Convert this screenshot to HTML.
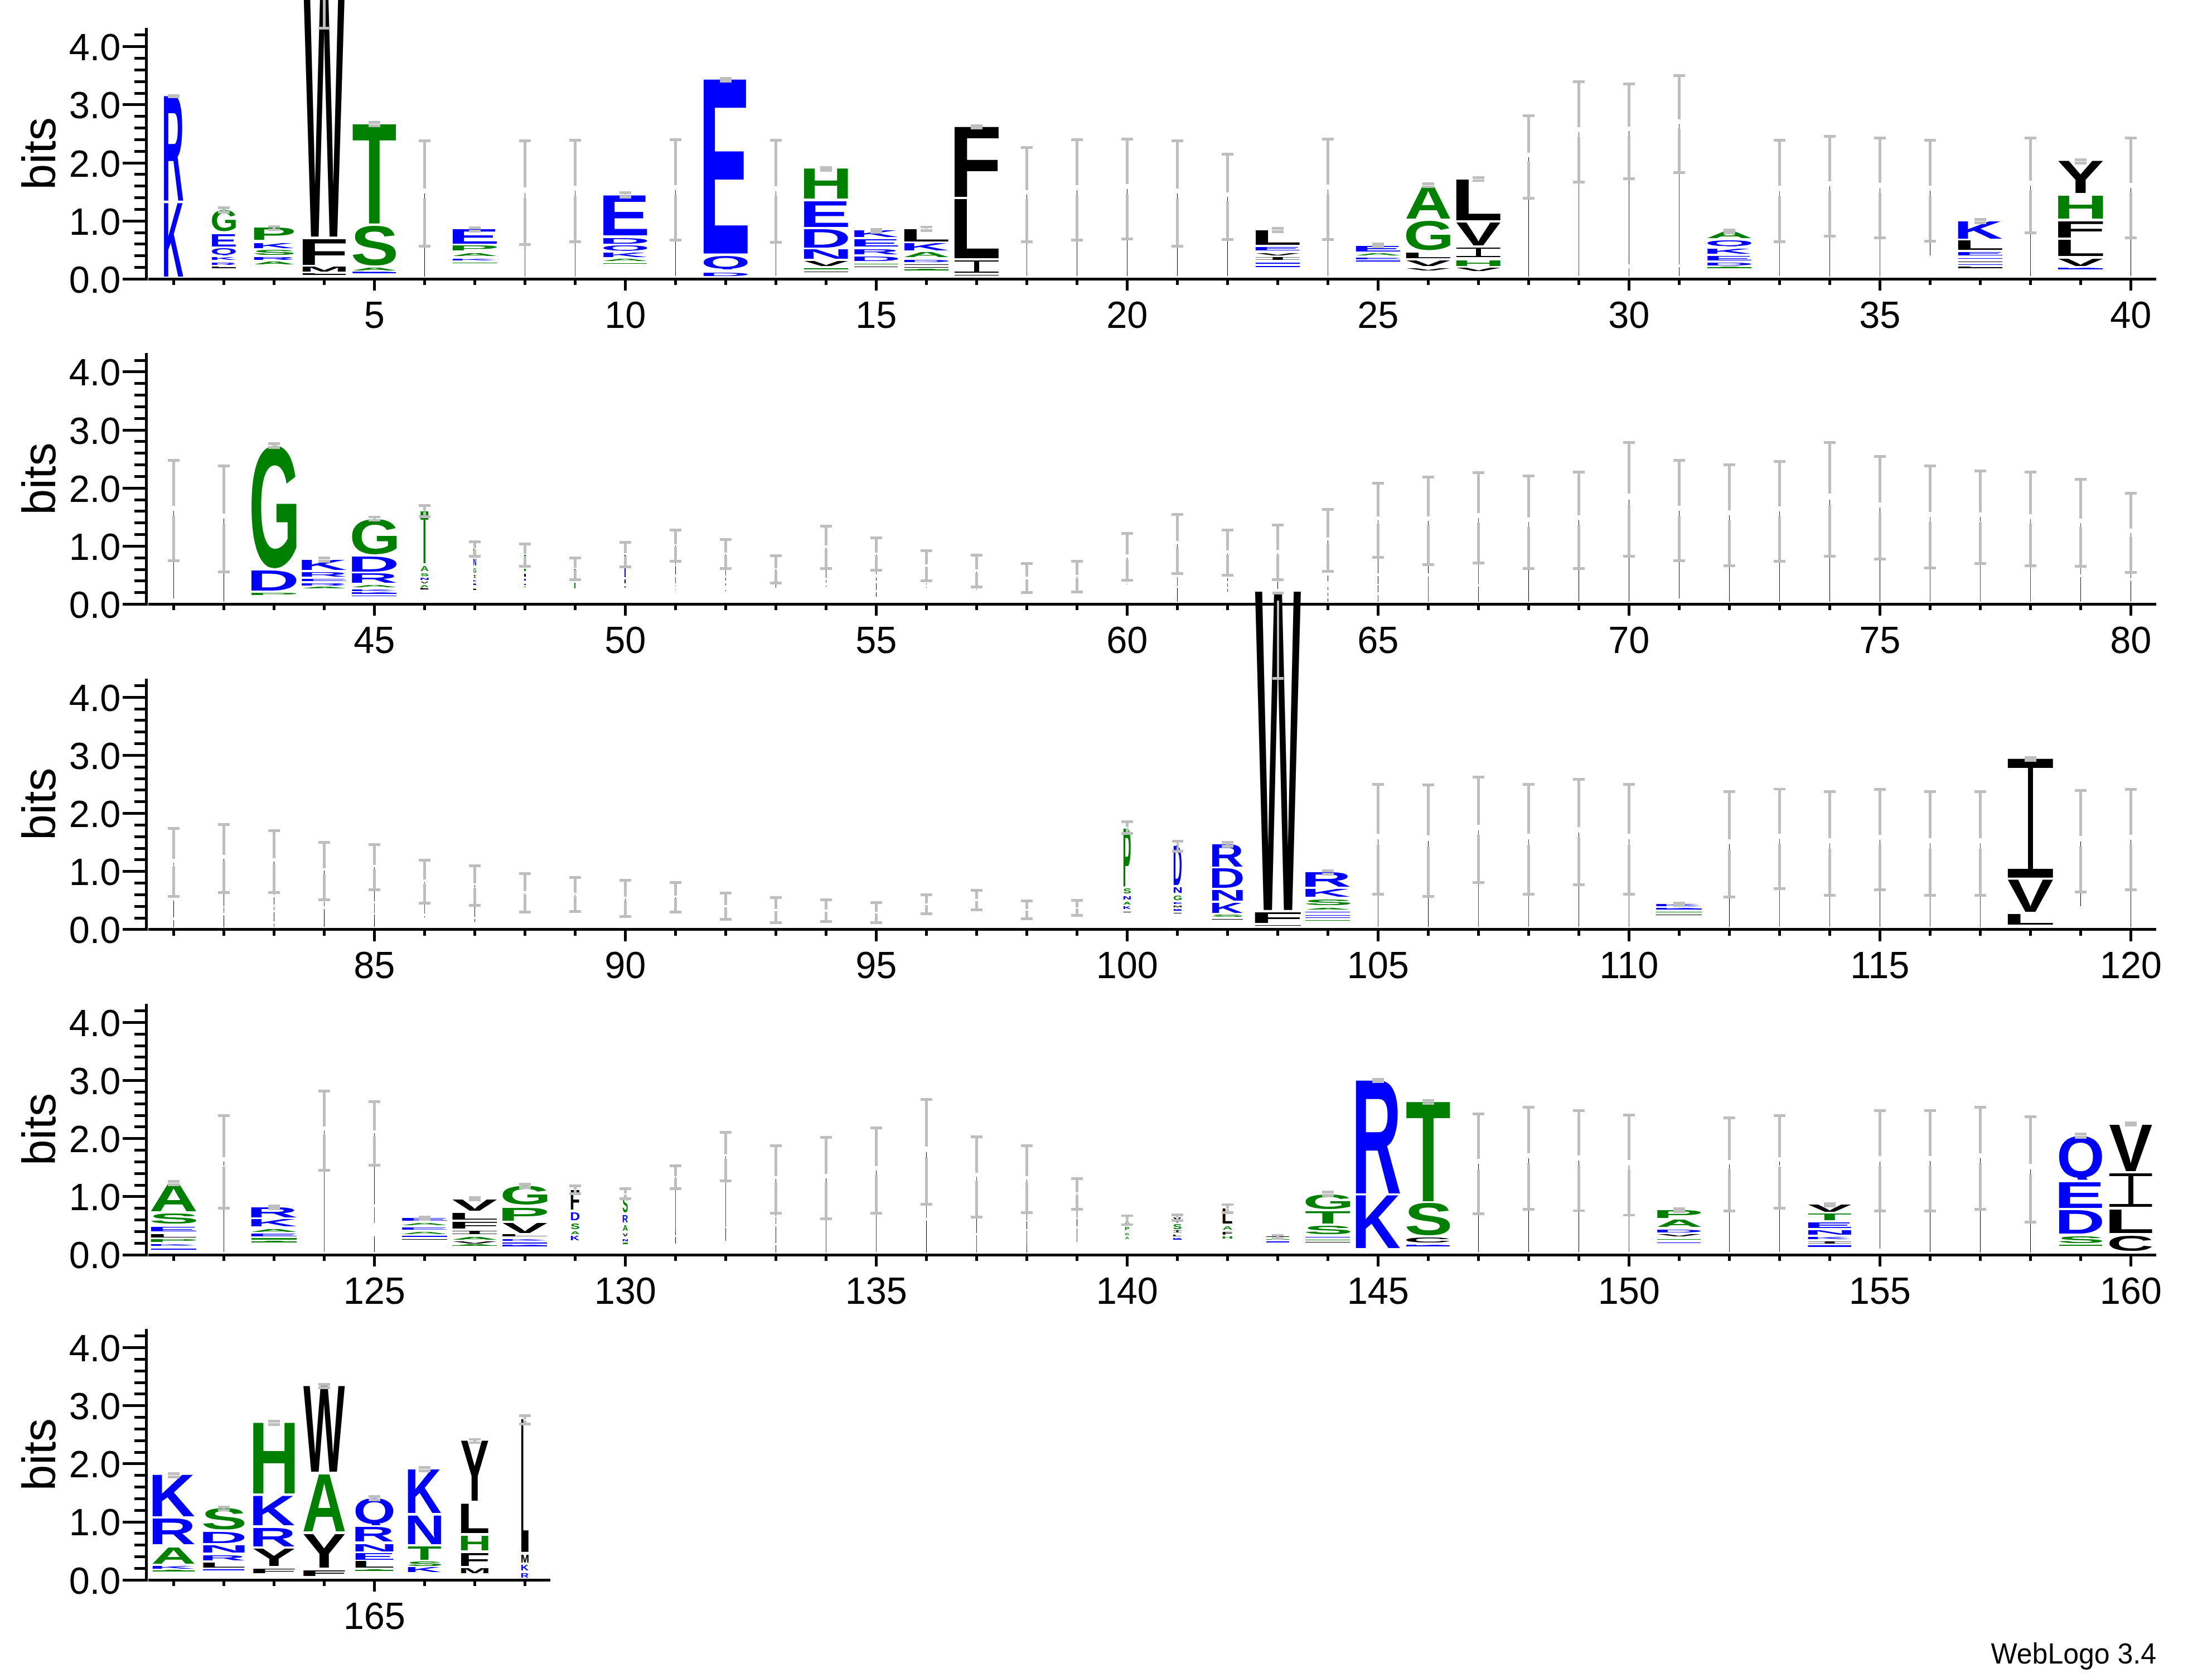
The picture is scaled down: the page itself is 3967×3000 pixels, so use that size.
<!DOCTYPE html>
<html><head><meta charset="utf-8"><title>WebLogo</title>
<style>
html,body{margin:0;padding:0;background:#fff;}
svg{display:block;}
rect{shape-rendering:crispEdges;}
.t{font-family:"Liberation Sans",Arial,sans-serif;font-size:66.67px;fill:#000;}
.b{font-family:"Liberation Sans",Arial,sans-serif;font-size:83.33px;fill:#000;}
.f{font-family:"Liberation Sans",Arial,sans-serif;font-size:50px;fill:#000;}
.g{font-family:"Liberation Sans",Arial,sans-serif;font-weight:bold;font-size:100px;}
.gi{font-family:"Liberation Mono",monospace;font-weight:normal;font-size:100px;}
</style></head><body>
<svg width="3967" height="3000" viewBox="0 0 3967 3000">
<rect width="3967" height="3000" fill="#fff"/>
<rect x="260" y="50.2" width="5" height="452.7"/>
<rect x="220" y="497.9" width="45" height="5"/>
<text x="216.4" y="524.9" class="t" text-anchor="end" transform="translate(0 524.9) scale(1 1.03) translate(0 -524.9)">0.0</text>
<rect x="241" y="477.1" width="24" height="5"/>
<rect x="241" y="456.2" width="24" height="5"/>
<rect x="241" y="435.4" width="24" height="5"/>
<rect x="241" y="414.6" width="24" height="5"/>
<rect x="220" y="393.7" width="45" height="5"/>
<text x="216.4" y="420.7" class="t" text-anchor="end" transform="translate(0 420.7) scale(1 1.03) translate(0 -420.7)">1.0</text>
<rect x="241" y="372.9" width="24" height="5"/>
<rect x="241" y="352.1" width="24" height="5"/>
<rect x="241" y="331.2" width="24" height="5"/>
<rect x="241" y="310.4" width="24" height="5"/>
<rect x="220" y="289.6" width="45" height="5"/>
<text x="216.4" y="316.6" class="t" text-anchor="end" transform="translate(0 316.6) scale(1 1.03) translate(0 -316.6)">2.0</text>
<rect x="241" y="268.7" width="24" height="5"/>
<rect x="241" y="247.9" width="24" height="5"/>
<rect x="241" y="227.1" width="24" height="5"/>
<rect x="241" y="206.2" width="24" height="5"/>
<rect x="220" y="185.4" width="45" height="5"/>
<text x="216.4" y="212.4" class="t" text-anchor="end" transform="translate(0 212.4) scale(1 1.03) translate(0 -212.4)">3.0</text>
<rect x="241" y="164.6" width="24" height="5"/>
<rect x="241" y="143.7" width="24" height="5"/>
<rect x="241" y="122.9" width="24" height="5"/>
<rect x="241" y="102.1" width="24" height="5"/>
<rect x="220" y="81.2" width="45" height="5"/>
<text x="216.4" y="108.2" class="t" text-anchor="end" transform="translate(0 108.2) scale(1 1.03) translate(0 -108.2)">4.0</text>
<rect x="241" y="60.4" width="24" height="5"/>
<text class="b" text-anchor="middle" transform="translate(99.3 275.3) rotate(-90)">bits</text>
<rect x="266" y="497.9" width="3601.0" height="5"/>
<rect x="308.8" y="500.4" width="5" height="10.8"/>
<rect x="398.8" y="500.4" width="5" height="10.8"/>
<rect x="488.8" y="500.4" width="5" height="10.8"/>
<rect x="578.8" y="500.4" width="5" height="10.8"/>
<rect x="668.8" y="500.4" width="5" height="20.8"/>
<text x="671.3" y="588.0" class="t" text-anchor="middle" transform="translate(0 588.0) scale(1 1.03) translate(0 -588.0)">5</text>
<rect x="758.8" y="500.4" width="5" height="10.8"/>
<rect x="848.8" y="500.4" width="5" height="10.8"/>
<rect x="938.8" y="500.4" width="5" height="10.8"/>
<rect x="1028.8" y="500.4" width="5" height="10.8"/>
<rect x="1118.8" y="500.4" width="5" height="20.8"/>
<text x="1121.3" y="588.0" class="t" text-anchor="middle" transform="translate(0 588.0) scale(1 1.03) translate(0 -588.0)">10</text>
<rect x="1208.8" y="500.4" width="5" height="10.8"/>
<rect x="1298.8" y="500.4" width="5" height="10.8"/>
<rect x="1388.8" y="500.4" width="5" height="10.8"/>
<rect x="1478.8" y="500.4" width="5" height="10.8"/>
<rect x="1568.8" y="500.4" width="5" height="20.8"/>
<text x="1571.3" y="588.0" class="t" text-anchor="middle" transform="translate(0 588.0) scale(1 1.03) translate(0 -588.0)">15</text>
<rect x="1658.8" y="500.4" width="5" height="10.8"/>
<rect x="1748.8" y="500.4" width="5" height="10.8"/>
<rect x="1838.8" y="500.4" width="5" height="10.8"/>
<rect x="1928.8" y="500.4" width="5" height="10.8"/>
<rect x="2018.8" y="500.4" width="5" height="20.8"/>
<text x="2021.3" y="588.0" class="t" text-anchor="middle" transform="translate(0 588.0) scale(1 1.03) translate(0 -588.0)">20</text>
<rect x="2108.8" y="500.4" width="5" height="10.8"/>
<rect x="2198.8" y="500.4" width="5" height="10.8"/>
<rect x="2288.8" y="500.4" width="5" height="10.8"/>
<rect x="2378.8" y="500.4" width="5" height="10.8"/>
<rect x="2468.8" y="500.4" width="5" height="20.8"/>
<text x="2471.3" y="588.0" class="t" text-anchor="middle" transform="translate(0 588.0) scale(1 1.03) translate(0 -588.0)">25</text>
<rect x="2558.8" y="500.4" width="5" height="10.8"/>
<rect x="2648.8" y="500.4" width="5" height="10.8"/>
<rect x="2738.8" y="500.4" width="5" height="10.8"/>
<rect x="2828.8" y="500.4" width="5" height="10.8"/>
<rect x="2918.8" y="500.4" width="5" height="20.8"/>
<text x="2921.3" y="588.0" class="t" text-anchor="middle" transform="translate(0 588.0) scale(1 1.03) translate(0 -588.0)">30</text>
<rect x="3008.8" y="500.4" width="5" height="10.8"/>
<rect x="3098.8" y="500.4" width="5" height="10.8"/>
<rect x="3188.8" y="500.4" width="5" height="10.8"/>
<rect x="3278.8" y="500.4" width="5" height="10.8"/>
<rect x="3368.8" y="500.4" width="5" height="20.8"/>
<text x="3371.3" y="588.0" class="t" text-anchor="middle" transform="translate(0 588.0) scale(1 1.03) translate(0 -588.0)">35</text>
<rect x="3458.8" y="500.4" width="5" height="10.8"/>
<rect x="3548.8" y="500.4" width="5" height="10.8"/>
<rect x="3638.8" y="500.4" width="5" height="10.8"/>
<rect x="3728.8" y="500.4" width="5" height="10.8"/>
<rect x="3818.8" y="500.4" width="5" height="20.8"/>
<text x="3821.3" y="588.0" class="t" text-anchor="middle" transform="translate(0 588.0) scale(1 1.03) translate(0 -588.0)">40</text>
<rect x="260" y="633.4" width="5" height="452.7"/>
<rect x="220" y="1081.1" width="45" height="5"/>
<text x="216.4" y="1108.1" class="t" text-anchor="end" transform="translate(0 1108.1) scale(1 1.03) translate(0 -1108.1)">0.0</text>
<rect x="241" y="1060.3" width="24" height="5"/>
<rect x="241" y="1039.4" width="24" height="5"/>
<rect x="241" y="1018.6" width="24" height="5"/>
<rect x="241" y="997.8" width="24" height="5"/>
<rect x="220" y="976.9" width="45" height="5"/>
<text x="216.4" y="1003.9" class="t" text-anchor="end" transform="translate(0 1003.9) scale(1 1.03) translate(0 -1003.9)">1.0</text>
<rect x="241" y="956.1" width="24" height="5"/>
<rect x="241" y="935.3" width="24" height="5"/>
<rect x="241" y="914.4" width="24" height="5"/>
<rect x="241" y="893.6" width="24" height="5"/>
<rect x="220" y="872.8" width="45" height="5"/>
<text x="216.4" y="899.8" class="t" text-anchor="end" transform="translate(0 899.8) scale(1 1.03) translate(0 -899.8)">2.0</text>
<rect x="241" y="851.9" width="24" height="5"/>
<rect x="241" y="831.1" width="24" height="5"/>
<rect x="241" y="810.3" width="24" height="5"/>
<rect x="241" y="789.4" width="24" height="5"/>
<rect x="220" y="768.6" width="45" height="5"/>
<text x="216.4" y="795.6" class="t" text-anchor="end" transform="translate(0 795.6) scale(1 1.03) translate(0 -795.6)">3.0</text>
<rect x="241" y="747.8" width="24" height="5"/>
<rect x="241" y="726.9" width="24" height="5"/>
<rect x="241" y="706.1" width="24" height="5"/>
<rect x="241" y="685.3" width="24" height="5"/>
<rect x="220" y="664.4" width="45" height="5"/>
<text x="216.4" y="691.4" class="t" text-anchor="end" transform="translate(0 691.4) scale(1 1.03) translate(0 -691.4)">4.0</text>
<rect x="241" y="643.6" width="24" height="5"/>
<text class="b" text-anchor="middle" transform="translate(99.3 858.5) rotate(-90)">bits</text>
<rect x="266" y="1081.1" width="3601.0" height="5"/>
<rect x="308.8" y="1083.6" width="5" height="10.8"/>
<rect x="398.8" y="1083.6" width="5" height="10.8"/>
<rect x="488.8" y="1083.6" width="5" height="10.8"/>
<rect x="578.8" y="1083.6" width="5" height="10.8"/>
<rect x="668.8" y="1083.6" width="5" height="20.8"/>
<text x="671.3" y="1171.2" class="t" text-anchor="middle" transform="translate(0 1171.2) scale(1 1.03) translate(0 -1171.2)">45</text>
<rect x="758.8" y="1083.6" width="5" height="10.8"/>
<rect x="848.8" y="1083.6" width="5" height="10.8"/>
<rect x="938.8" y="1083.6" width="5" height="10.8"/>
<rect x="1028.8" y="1083.6" width="5" height="10.8"/>
<rect x="1118.8" y="1083.6" width="5" height="20.8"/>
<text x="1121.3" y="1171.2" class="t" text-anchor="middle" transform="translate(0 1171.2) scale(1 1.03) translate(0 -1171.2)">50</text>
<rect x="1208.8" y="1083.6" width="5" height="10.8"/>
<rect x="1298.8" y="1083.6" width="5" height="10.8"/>
<rect x="1388.8" y="1083.6" width="5" height="10.8"/>
<rect x="1478.8" y="1083.6" width="5" height="10.8"/>
<rect x="1568.8" y="1083.6" width="5" height="20.8"/>
<text x="1571.3" y="1171.2" class="t" text-anchor="middle" transform="translate(0 1171.2) scale(1 1.03) translate(0 -1171.2)">55</text>
<rect x="1658.8" y="1083.6" width="5" height="10.8"/>
<rect x="1748.8" y="1083.6" width="5" height="10.8"/>
<rect x="1838.8" y="1083.6" width="5" height="10.8"/>
<rect x="1928.8" y="1083.6" width="5" height="10.8"/>
<rect x="2018.8" y="1083.6" width="5" height="20.8"/>
<text x="2021.3" y="1171.2" class="t" text-anchor="middle" transform="translate(0 1171.2) scale(1 1.03) translate(0 -1171.2)">60</text>
<rect x="2108.8" y="1083.6" width="5" height="10.8"/>
<rect x="2198.8" y="1083.6" width="5" height="10.8"/>
<rect x="2288.8" y="1083.6" width="5" height="10.8"/>
<rect x="2378.8" y="1083.6" width="5" height="10.8"/>
<rect x="2468.8" y="1083.6" width="5" height="20.8"/>
<text x="2471.3" y="1171.2" class="t" text-anchor="middle" transform="translate(0 1171.2) scale(1 1.03) translate(0 -1171.2)">65</text>
<rect x="2558.8" y="1083.6" width="5" height="10.8"/>
<rect x="2648.8" y="1083.6" width="5" height="10.8"/>
<rect x="2738.8" y="1083.6" width="5" height="10.8"/>
<rect x="2828.8" y="1083.6" width="5" height="10.8"/>
<rect x="2918.8" y="1083.6" width="5" height="20.8"/>
<text x="2921.3" y="1171.2" class="t" text-anchor="middle" transform="translate(0 1171.2) scale(1 1.03) translate(0 -1171.2)">70</text>
<rect x="3008.8" y="1083.6" width="5" height="10.8"/>
<rect x="3098.8" y="1083.6" width="5" height="10.8"/>
<rect x="3188.8" y="1083.6" width="5" height="10.8"/>
<rect x="3278.8" y="1083.6" width="5" height="10.8"/>
<rect x="3368.8" y="1083.6" width="5" height="20.8"/>
<text x="3371.3" y="1171.2" class="t" text-anchor="middle" transform="translate(0 1171.2) scale(1 1.03) translate(0 -1171.2)">75</text>
<rect x="3458.8" y="1083.6" width="5" height="10.8"/>
<rect x="3548.8" y="1083.6" width="5" height="10.8"/>
<rect x="3638.8" y="1083.6" width="5" height="10.8"/>
<rect x="3728.8" y="1083.6" width="5" height="10.8"/>
<rect x="3818.8" y="1083.6" width="5" height="20.8"/>
<text x="3821.3" y="1171.2" class="t" text-anchor="middle" transform="translate(0 1171.2) scale(1 1.03) translate(0 -1171.2)">80</text>
<rect x="260" y="1216.6" width="5" height="452.7"/>
<rect x="220" y="1664.3" width="45" height="5"/>
<text x="216.4" y="1691.3" class="t" text-anchor="end" transform="translate(0 1691.3) scale(1 1.03) translate(0 -1691.3)">0.0</text>
<rect x="241" y="1643.5" width="24" height="5"/>
<rect x="241" y="1622.6" width="24" height="5"/>
<rect x="241" y="1601.8" width="24" height="5"/>
<rect x="241" y="1581.0" width="24" height="5"/>
<rect x="220" y="1560.1" width="45" height="5"/>
<text x="216.4" y="1587.1" class="t" text-anchor="end" transform="translate(0 1587.1) scale(1 1.03) translate(0 -1587.1)">1.0</text>
<rect x="241" y="1539.3" width="24" height="5"/>
<rect x="241" y="1518.5" width="24" height="5"/>
<rect x="241" y="1497.6" width="24" height="5"/>
<rect x="241" y="1476.8" width="24" height="5"/>
<rect x="220" y="1456.0" width="45" height="5"/>
<text x="216.4" y="1483.0" class="t" text-anchor="end" transform="translate(0 1483.0) scale(1 1.03) translate(0 -1483.0)">2.0</text>
<rect x="241" y="1435.1" width="24" height="5"/>
<rect x="241" y="1414.3" width="24" height="5"/>
<rect x="241" y="1393.5" width="24" height="5"/>
<rect x="241" y="1372.6" width="24" height="5"/>
<rect x="220" y="1351.8" width="45" height="5"/>
<text x="216.4" y="1378.8" class="t" text-anchor="end" transform="translate(0 1378.8) scale(1 1.03) translate(0 -1378.8)">3.0</text>
<rect x="241" y="1331.0" width="24" height="5"/>
<rect x="241" y="1310.1" width="24" height="5"/>
<rect x="241" y="1289.3" width="24" height="5"/>
<rect x="241" y="1268.5" width="24" height="5"/>
<rect x="220" y="1247.6" width="45" height="5"/>
<text x="216.4" y="1274.6" class="t" text-anchor="end" transform="translate(0 1274.6) scale(1 1.03) translate(0 -1274.6)">4.0</text>
<rect x="241" y="1226.8" width="24" height="5"/>
<text class="b" text-anchor="middle" transform="translate(99.3 1441.7) rotate(-90)">bits</text>
<rect x="266" y="1664.3" width="3601.0" height="5"/>
<rect x="308.8" y="1666.8" width="5" height="10.8"/>
<rect x="398.8" y="1666.8" width="5" height="10.8"/>
<rect x="488.8" y="1666.8" width="5" height="10.8"/>
<rect x="578.8" y="1666.8" width="5" height="10.8"/>
<rect x="668.8" y="1666.8" width="5" height="20.8"/>
<text x="671.3" y="1754.4" class="t" text-anchor="middle" transform="translate(0 1754.4) scale(1 1.03) translate(0 -1754.4)">85</text>
<rect x="758.8" y="1666.8" width="5" height="10.8"/>
<rect x="848.8" y="1666.8" width="5" height="10.8"/>
<rect x="938.8" y="1666.8" width="5" height="10.8"/>
<rect x="1028.8" y="1666.8" width="5" height="10.8"/>
<rect x="1118.8" y="1666.8" width="5" height="20.8"/>
<text x="1121.3" y="1754.4" class="t" text-anchor="middle" transform="translate(0 1754.4) scale(1 1.03) translate(0 -1754.4)">90</text>
<rect x="1208.8" y="1666.8" width="5" height="10.8"/>
<rect x="1298.8" y="1666.8" width="5" height="10.8"/>
<rect x="1388.8" y="1666.8" width="5" height="10.8"/>
<rect x="1478.8" y="1666.8" width="5" height="10.8"/>
<rect x="1568.8" y="1666.8" width="5" height="20.8"/>
<text x="1571.3" y="1754.4" class="t" text-anchor="middle" transform="translate(0 1754.4) scale(1 1.03) translate(0 -1754.4)">95</text>
<rect x="1658.8" y="1666.8" width="5" height="10.8"/>
<rect x="1748.8" y="1666.8" width="5" height="10.8"/>
<rect x="1838.8" y="1666.8" width="5" height="10.8"/>
<rect x="1928.8" y="1666.8" width="5" height="10.8"/>
<rect x="2018.8" y="1666.8" width="5" height="20.8"/>
<text x="2021.3" y="1754.4" class="t" text-anchor="middle" transform="translate(0 1754.4) scale(1 1.03) translate(0 -1754.4)">100</text>
<rect x="2108.8" y="1666.8" width="5" height="10.8"/>
<rect x="2198.8" y="1666.8" width="5" height="10.8"/>
<rect x="2288.8" y="1666.8" width="5" height="10.8"/>
<rect x="2378.8" y="1666.8" width="5" height="10.8"/>
<rect x="2468.8" y="1666.8" width="5" height="20.8"/>
<text x="2471.3" y="1754.4" class="t" text-anchor="middle" transform="translate(0 1754.4) scale(1 1.03) translate(0 -1754.4)">105</text>
<rect x="2558.8" y="1666.8" width="5" height="10.8"/>
<rect x="2648.8" y="1666.8" width="5" height="10.8"/>
<rect x="2738.8" y="1666.8" width="5" height="10.8"/>
<rect x="2828.8" y="1666.8" width="5" height="10.8"/>
<rect x="2918.8" y="1666.8" width="5" height="20.8"/>
<text x="2921.3" y="1754.4" class="t" text-anchor="middle" transform="translate(0 1754.4) scale(1 1.03) translate(0 -1754.4)">110</text>
<rect x="3008.8" y="1666.8" width="5" height="10.8"/>
<rect x="3098.8" y="1666.8" width="5" height="10.8"/>
<rect x="3188.8" y="1666.8" width="5" height="10.8"/>
<rect x="3278.8" y="1666.8" width="5" height="10.8"/>
<rect x="3368.8" y="1666.8" width="5" height="20.8"/>
<text x="3371.3" y="1754.4" class="t" text-anchor="middle" transform="translate(0 1754.4) scale(1 1.03) translate(0 -1754.4)">115</text>
<rect x="3458.8" y="1666.8" width="5" height="10.8"/>
<rect x="3548.8" y="1666.8" width="5" height="10.8"/>
<rect x="3638.8" y="1666.8" width="5" height="10.8"/>
<rect x="3728.8" y="1666.8" width="5" height="10.8"/>
<rect x="3818.8" y="1666.8" width="5" height="20.8"/>
<text x="3821.3" y="1754.4" class="t" text-anchor="middle" transform="translate(0 1754.4) scale(1 1.03) translate(0 -1754.4)">120</text>
<rect x="260" y="1799.8" width="5" height="452.7"/>
<rect x="220" y="2247.5" width="45" height="5"/>
<text x="216.4" y="2274.5" class="t" text-anchor="end" transform="translate(0 2274.5) scale(1 1.03) translate(0 -2274.5)">0.0</text>
<rect x="241" y="2226.7" width="24" height="5"/>
<rect x="241" y="2205.8" width="24" height="5"/>
<rect x="241" y="2185.0" width="24" height="5"/>
<rect x="241" y="2164.2" width="24" height="5"/>
<rect x="220" y="2143.3" width="45" height="5"/>
<text x="216.4" y="2170.3" class="t" text-anchor="end" transform="translate(0 2170.3) scale(1 1.03) translate(0 -2170.3)">1.0</text>
<rect x="241" y="2122.5" width="24" height="5"/>
<rect x="241" y="2101.7" width="24" height="5"/>
<rect x="241" y="2080.8" width="24" height="5"/>
<rect x="241" y="2060.0" width="24" height="5"/>
<rect x="220" y="2039.2" width="45" height="5"/>
<text x="216.4" y="2066.2" class="t" text-anchor="end" transform="translate(0 2066.2) scale(1 1.03) translate(0 -2066.2)">2.0</text>
<rect x="241" y="2018.3" width="24" height="5"/>
<rect x="241" y="1997.5" width="24" height="5"/>
<rect x="241" y="1976.7" width="24" height="5"/>
<rect x="241" y="1955.8" width="24" height="5"/>
<rect x="220" y="1935.0" width="45" height="5"/>
<text x="216.4" y="1962.0" class="t" text-anchor="end" transform="translate(0 1962.0) scale(1 1.03) translate(0 -1962.0)">3.0</text>
<rect x="241" y="1914.2" width="24" height="5"/>
<rect x="241" y="1893.3" width="24" height="5"/>
<rect x="241" y="1872.5" width="24" height="5"/>
<rect x="241" y="1851.7" width="24" height="5"/>
<rect x="220" y="1830.8" width="45" height="5"/>
<text x="216.4" y="1857.8" class="t" text-anchor="end" transform="translate(0 1857.8) scale(1 1.03) translate(0 -1857.8)">4.0</text>
<rect x="241" y="1810.0" width="24" height="5"/>
<text class="b" text-anchor="middle" transform="translate(99.3 2024.9) rotate(-90)">bits</text>
<rect x="266" y="2247.5" width="3601.0" height="5"/>
<rect x="308.8" y="2250.0" width="5" height="10.8"/>
<rect x="398.8" y="2250.0" width="5" height="10.8"/>
<rect x="488.8" y="2250.0" width="5" height="10.8"/>
<rect x="578.8" y="2250.0" width="5" height="10.8"/>
<rect x="668.8" y="2250.0" width="5" height="20.8"/>
<text x="671.3" y="2337.6" class="t" text-anchor="middle" transform="translate(0 2337.6) scale(1 1.03) translate(0 -2337.6)">125</text>
<rect x="758.8" y="2250.0" width="5" height="10.8"/>
<rect x="848.8" y="2250.0" width="5" height="10.8"/>
<rect x="938.8" y="2250.0" width="5" height="10.8"/>
<rect x="1028.8" y="2250.0" width="5" height="10.8"/>
<rect x="1118.8" y="2250.0" width="5" height="20.8"/>
<text x="1121.3" y="2337.6" class="t" text-anchor="middle" transform="translate(0 2337.6) scale(1 1.03) translate(0 -2337.6)">130</text>
<rect x="1208.8" y="2250.0" width="5" height="10.8"/>
<rect x="1298.8" y="2250.0" width="5" height="10.8"/>
<rect x="1388.8" y="2250.0" width="5" height="10.8"/>
<rect x="1478.8" y="2250.0" width="5" height="10.8"/>
<rect x="1568.8" y="2250.0" width="5" height="20.8"/>
<text x="1571.3" y="2337.6" class="t" text-anchor="middle" transform="translate(0 2337.6) scale(1 1.03) translate(0 -2337.6)">135</text>
<rect x="1658.8" y="2250.0" width="5" height="10.8"/>
<rect x="1748.8" y="2250.0" width="5" height="10.8"/>
<rect x="1838.8" y="2250.0" width="5" height="10.8"/>
<rect x="1928.8" y="2250.0" width="5" height="10.8"/>
<rect x="2018.8" y="2250.0" width="5" height="20.8"/>
<text x="2021.3" y="2337.6" class="t" text-anchor="middle" transform="translate(0 2337.6) scale(1 1.03) translate(0 -2337.6)">140</text>
<rect x="2108.8" y="2250.0" width="5" height="10.8"/>
<rect x="2198.8" y="2250.0" width="5" height="10.8"/>
<rect x="2288.8" y="2250.0" width="5" height="10.8"/>
<rect x="2378.8" y="2250.0" width="5" height="10.8"/>
<rect x="2468.8" y="2250.0" width="5" height="20.8"/>
<text x="2471.3" y="2337.6" class="t" text-anchor="middle" transform="translate(0 2337.6) scale(1 1.03) translate(0 -2337.6)">145</text>
<rect x="2558.8" y="2250.0" width="5" height="10.8"/>
<rect x="2648.8" y="2250.0" width="5" height="10.8"/>
<rect x="2738.8" y="2250.0" width="5" height="10.8"/>
<rect x="2828.8" y="2250.0" width="5" height="10.8"/>
<rect x="2918.8" y="2250.0" width="5" height="20.8"/>
<text x="2921.3" y="2337.6" class="t" text-anchor="middle" transform="translate(0 2337.6) scale(1 1.03) translate(0 -2337.6)">150</text>
<rect x="3008.8" y="2250.0" width="5" height="10.8"/>
<rect x="3098.8" y="2250.0" width="5" height="10.8"/>
<rect x="3188.8" y="2250.0" width="5" height="10.8"/>
<rect x="3278.8" y="2250.0" width="5" height="10.8"/>
<rect x="3368.8" y="2250.0" width="5" height="20.8"/>
<text x="3371.3" y="2337.6" class="t" text-anchor="middle" transform="translate(0 2337.6) scale(1 1.03) translate(0 -2337.6)">155</text>
<rect x="3458.8" y="2250.0" width="5" height="10.8"/>
<rect x="3548.8" y="2250.0" width="5" height="10.8"/>
<rect x="3638.8" y="2250.0" width="5" height="10.8"/>
<rect x="3728.8" y="2250.0" width="5" height="10.8"/>
<rect x="3818.8" y="2250.0" width="5" height="20.8"/>
<text x="3821.3" y="2337.6" class="t" text-anchor="middle" transform="translate(0 2337.6) scale(1 1.03) translate(0 -2337.6)">160</text>
<rect x="260" y="2383.0" width="5" height="452.7"/>
<rect x="220" y="2830.7" width="45" height="5"/>
<text x="216.4" y="2857.7" class="t" text-anchor="end" transform="translate(0 2857.7) scale(1 1.03) translate(0 -2857.7)">0.0</text>
<rect x="241" y="2809.9" width="24" height="5"/>
<rect x="241" y="2789.0" width="24" height="5"/>
<rect x="241" y="2768.2" width="24" height="5"/>
<rect x="241" y="2747.4" width="24" height="5"/>
<rect x="220" y="2726.5" width="45" height="5"/>
<text x="216.4" y="2753.5" class="t" text-anchor="end" transform="translate(0 2753.5) scale(1 1.03) translate(0 -2753.5)">1.0</text>
<rect x="241" y="2705.7" width="24" height="5"/>
<rect x="241" y="2684.9" width="24" height="5"/>
<rect x="241" y="2664.0" width="24" height="5"/>
<rect x="241" y="2643.2" width="24" height="5"/>
<rect x="220" y="2622.4" width="45" height="5"/>
<text x="216.4" y="2649.4" class="t" text-anchor="end" transform="translate(0 2649.4) scale(1 1.03) translate(0 -2649.4)">2.0</text>
<rect x="241" y="2601.5" width="24" height="5"/>
<rect x="241" y="2580.7" width="24" height="5"/>
<rect x="241" y="2559.9" width="24" height="5"/>
<rect x="241" y="2539.0" width="24" height="5"/>
<rect x="220" y="2518.2" width="45" height="5"/>
<text x="216.4" y="2545.2" class="t" text-anchor="end" transform="translate(0 2545.2) scale(1 1.03) translate(0 -2545.2)">3.0</text>
<rect x="241" y="2497.4" width="24" height="5"/>
<rect x="241" y="2476.5" width="24" height="5"/>
<rect x="241" y="2455.7" width="24" height="5"/>
<rect x="241" y="2434.9" width="24" height="5"/>
<rect x="220" y="2414.0" width="45" height="5"/>
<text x="216.4" y="2441.0" class="t" text-anchor="end" transform="translate(0 2441.0) scale(1 1.03) translate(0 -2441.0)">4.0</text>
<rect x="241" y="2393.2" width="24" height="5"/>
<text class="b" text-anchor="middle" transform="translate(99.3 2608.1) rotate(-90)">bits</text>
<rect x="266" y="2830.7" width="721.0" height="5"/>
<rect x="308.8" y="2833.2" width="5" height="10.8"/>
<rect x="398.8" y="2833.2" width="5" height="10.8"/>
<rect x="488.8" y="2833.2" width="5" height="10.8"/>
<rect x="578.8" y="2833.2" width="5" height="10.8"/>
<rect x="668.8" y="2833.2" width="5" height="20.8"/>
<text x="671.3" y="2920.8" class="t" text-anchor="middle" transform="translate(0 2920.8) scale(1 1.03) translate(0 -2920.8)">165</text>
<rect x="758.8" y="2833.2" width="5" height="10.8"/>
<rect x="848.8" y="2833.2" width="5" height="10.8"/>
<rect x="938.8" y="2833.2" width="5" height="10.8"/>
<text class="g" fill="#0000ff" transform="matrix(0.54351 0 0 2.72098 290.41 359.80)">R</text>
<text class="g" fill="#0000ff" transform="matrix(0.53406 0 0 1.91718 290.48 495.90)">K</text>
<rect x="308.9" y="171.4" width="4.8" height="0.9" fill="#bebebe"/>
<rect x="308.9" y="172.5" width="4.8" height="0.9" fill="#bebebe"/>
<rect x="300.9" y="169.1" width="20.8" height="4.7" fill="#bebebe"/>
<rect x="300.9" y="171.1" width="20.8" height="4.7" fill="#bebebe"/>
<text class="g" fill="#008000" transform="matrix(0.63129 0 0 0.53813 377.41 413.97)">G</text>
<text class="g" fill="#0000ff" transform="matrix(0.75931 0 0 0.31977 374.92 442.00)">E</text>
<clipPath id="q1"><rect x="378.00" y="443.60" width="46.60" height="14.10"/></clipPath>
<g clip-path="url(#q1)"><text class="g" fill="#0000ff" transform="matrix(0.61310 0 0 0.15733 377.49 456.59)">Q</text></g>
<text class="g" fill="#0000ff" transform="matrix(0.65945 0 0 0.06686 375.59 466.30)">K</text>
<text class="g" fill="#0000ff" transform="matrix(0.67111 0 0 0.05814 375.51 474.90)">R</text>
<rect x="380.00" y="479.10" width="42.60" height="1.90" fill="#000000"/>
<text class="g" fill="#000000" transform="matrix(0.83011 0 0 0.02762 374.45 481.00)">L</text>
<rect x="398.9" y="372.5" width="4.8" height="3.6" fill="#bebebe"/>
<rect x="398.9" y="376.9" width="4.8" height="3.6" fill="#bebebe"/>
<rect x="390.9" y="370.1" width="20.8" height="4.7" fill="#bebebe"/>
<rect x="390.9" y="378.1" width="20.8" height="4.7" fill="#bebebe"/>
<text class="g" fill="#008000" transform="matrix(1.25990 0 0 0.30960 447.22 429.70)">P</text>
<text class="g" fill="#0000ff" transform="matrix(1.10372 0 0 0.12355 448.27 445.00)">K</text>
<text class="g" fill="#008000" transform="matrix(1.19008 0 0 0.12994 452.22 457.07)">S</text>
<text class="g" fill="#0000ff" transform="matrix(1.12325 0 0 0.07994 448.14 466.30)">R</text>
<text class="g" fill="#008000" transform="matrix(1.06275 0 0 0.06686 453.00 474.00)">A</text>
<rect x="488.9" y="406.0" width="4.8" height="2.7" fill="#bebebe"/>
<rect x="488.9" y="409.3" width="4.8" height="2.7" fill="#bebebe"/>
<rect x="480.9" y="403.6" width="20.8" height="4.7" fill="#bebebe"/>
<rect x="480.9" y="409.6" width="20.8" height="4.7" fill="#bebebe"/>
<text class="g" fill="#000000" transform="matrix(0.80158 0 0 6.77773 543.47 424.30)">W</text>
<text class="g" fill="#000000" transform="matrix(1.51777 0 0 0.67443 532.65 474.60)">F</text>
<text class="g" fill="#000000" transform="matrix(1.10123 0 0 0.13227 535.43 486.70)">M</text>
<rect x="542.80" y="490.70" width="77.00" height="2.10" fill="#000000"/>
<text class="g" fill="#000000" transform="matrix(1.50044 0 0 0.03052 532.76 492.80)">L</text>
<rect x="578.9" y="-32.8" width="4.8" height="83.1" fill="#bebebe"/>
<rect x="578.9" y="-41.8" width="4.8" height="1.8" fill="#bebebe"/>
<rect x="570.9" y="47.9" width="20.8" height="4.7" fill="#bebebe"/>
<rect x="570.9" y="-42.4" width="20.8" height="4.7" fill="#bebebe"/>
<text class="g" fill="#008000" transform="matrix(1.31609 0 0 2.58289 631.07 400.80)">T</text>
<text class="g" fill="#008000" transform="matrix(1.29356 0 0 0.99858 628.82 474.52)">S</text>
<text class="g" fill="#008000" transform="matrix(1.15517 0 0 0.06686 629.67 484.60)">A</text>
<rect x="632.55" y="487.70" width="77.50" height="1.80" fill="#0000ff"/>
<text class="g" fill="#0000ff" transform="matrix(1.26369 0 0 0.02616 624.10 489.50)">D</text>
<rect x="668.9" y="219.5" width="4.8" height="2.7" fill="#bebebe"/>
<rect x="668.9" y="222.8" width="4.8" height="2.7" fill="#bebebe"/>
<rect x="660.9" y="217.2" width="20.8" height="4.7" fill="#bebebe"/>
<rect x="660.9" y="223.2" width="20.8" height="4.7" fill="#bebebe"/>
<rect x="760.70" y="347.10" width="1.20" height="148.90" fill="#000000"/>
<rect x="758.9" y="252.5" width="4.8" height="85.1" fill="#bebebe"/>
<rect x="758.9" y="356.4" width="4.8" height="85.1" fill="#bebebe"/>
<rect x="750.9" y="250.2" width="20.8" height="4.7" fill="#bebebe"/>
<rect x="750.9" y="439.1" width="20.8" height="4.7" fill="#bebebe"/>
<text class="g" fill="#0000ff" transform="matrix(1.40811 0 0 0.36338 802.38 437.00)">E</text>
<text class="g" fill="#008000" transform="matrix(1.39596 0 0 0.12500 802.46 448.60)">P</text>
<text class="g" fill="#008000" transform="matrix(1.17753 0 0 0.07994 808.87 458.80)">A</text>
<text class="g" fill="#0000ff" transform="matrix(1.22292 0 0 0.04361 803.62 466.90)">K</text>
<rect x="811.80" y="470.60" width="79.00" height="1.40" fill="#008000"/>
<text class="g" fill="#008000" transform="matrix(1.17753 0 0 0.02035 808.87 472.00)">A</text>
<rect x="848.9" y="408.8" width="4.8" height="2.5" fill="#bebebe"/>
<rect x="848.9" y="411.9" width="4.8" height="2.5" fill="#bebebe"/>
<rect x="840.9" y="406.4" width="20.8" height="4.7" fill="#bebebe"/>
<rect x="840.9" y="412.1" width="20.8" height="4.7" fill="#bebebe"/>
<rect x="940.70" y="345.50" width="1.20" height="150.50" fill="#008000"/>
<rect x="938.9" y="252.5" width="4.8" height="83.7" fill="#bebebe"/>
<rect x="938.9" y="354.8" width="4.8" height="83.7" fill="#bebebe"/>
<rect x="930.9" y="250.2" width="20.8" height="4.7" fill="#bebebe"/>
<rect x="930.9" y="436.1" width="20.8" height="4.7" fill="#bebebe"/>
<rect x="1030.70" y="342.00" width="1.20" height="154.00" fill="#008000"/>
<rect x="1028.9" y="251.4" width="4.8" height="81.9" fill="#bebebe"/>
<rect x="1028.9" y="351.5" width="4.8" height="81.9" fill="#bebebe"/>
<rect x="1020.9" y="249.0" width="20.8" height="4.7" fill="#bebebe"/>
<rect x="1020.9" y="431.0" width="20.8" height="4.7" fill="#bebebe"/>
<text class="g" fill="#0000ff" transform="matrix(1.39563 0 0 1.04072 1072.81 421.70)">E</text>
<text class="g" fill="#0000ff" transform="matrix(1.27674 0 0 0.14826 1073.61 437.00)">D</text>
<clipPath id="q2"><rect x="1080.15" y="438.00" width="82.30" height="11.70"/></clipPath>
<g clip-path="url(#q2)"><text class="g" fill="#0000ff" transform="matrix(1.12690 0 0 0.12478 1077.53 448.71)">Q</text></g>
<text class="g" fill="#0000ff" transform="matrix(1.21208 0 0 0.10029 1074.04 460.80)">K</text>
<text class="g" fill="#008000" transform="matrix(1.16709 0 0 0.04506 1079.24 468.10)">A</text>
<rect x="1082.15" y="471.60" width="78.30" height="1.00" fill="#008000"/>
<rect x="1118.9" y="345.5" width="4.8" height="3.6" fill="#bebebe"/>
<rect x="1118.9" y="349.9" width="4.8" height="3.6" fill="#bebebe"/>
<rect x="1110.9" y="343.1" width="20.8" height="4.7" fill="#bebebe"/>
<rect x="1110.9" y="351.1" width="20.8" height="4.7" fill="#bebebe"/>
<rect x="1210.70" y="341.00" width="1.20" height="154.40" fill="#0000ff"/>
<rect x="1208.9" y="250.5" width="4.8" height="81.0" fill="#bebebe"/>
<rect x="1208.9" y="349.5" width="4.8" height="81.0" fill="#bebebe"/>
<rect x="1200.9" y="248.2" width="20.8" height="4.7" fill="#bebebe"/>
<rect x="1200.9" y="428.1" width="20.8" height="4.7" fill="#bebebe"/>
<text class="g" fill="#0000ff" transform="matrix(1.40455 0 0 4.53205 1252.50 454.60)">E</text>
<clipPath id="q3"><rect x="1259.90" y="456.80" width="82.80" height="26.30"/></clipPath>
<g clip-path="url(#q3)"><text class="g" fill="#0000ff" transform="matrix(1.13410 0 0 0.32280 1257.25 481.34)">Q</text></g>
<text class="g" fill="#0000ff" transform="matrix(1.28489 0 0 0.08430 1253.30 494.90)">D</text>
<rect x="1298.9" y="140.5" width="4.8" height="2.2" fill="#bebebe"/>
<rect x="1298.9" y="143.2" width="4.8" height="2.2" fill="#bebebe"/>
<rect x="1290.9" y="138.2" width="20.8" height="4.7" fill="#bebebe"/>
<rect x="1290.9" y="143.2" width="20.8" height="4.7" fill="#bebebe"/>
<rect x="1390.70" y="343.40" width="1.20" height="152.00" fill="#008000"/>
<rect x="1388.9" y="251.7" width="4.8" height="82.4" fill="#bebebe"/>
<rect x="1388.9" y="352.3" width="4.8" height="82.4" fill="#bebebe"/>
<rect x="1380.9" y="249.3" width="20.8" height="4.7" fill="#bebebe"/>
<rect x="1380.9" y="432.3" width="20.8" height="4.7" fill="#bebebe"/>
<text class="g" fill="#008000" transform="matrix(1.33698 0 0 0.77036 1433.06 356.00)">H</text>
<text class="g" fill="#0000ff" transform="matrix(1.40098 0 0 0.66135 1432.63 406.80)">E</text>
<text class="g" fill="#0000ff" transform="matrix(1.28163 0 0 0.48111 1433.43 444.10)">D</text>
<text class="g" fill="#0000ff" transform="matrix(1.33698 0 0 0.23692 1433.06 463.90)">N</text>
<text class="g" fill="#000000" transform="matrix(1.20309 0 0 0.12791 1441.18 476.70)">V</text>
<rect x="1442.00" y="480.90" width="78.60" height="1.70" fill="#008000"/>
<text class="g" fill="#008000" transform="matrix(1.17156 0 0 0.02471 1439.08 482.60)">A</text>
<rect x="1442.00" y="486.80" width="78.60" height="1.20" fill="#000000"/>
<rect x="1478.9" y="300.3" width="4.8" height="2.2" fill="#bebebe"/>
<rect x="1478.9" y="303.1" width="4.8" height="2.2" fill="#bebebe"/>
<rect x="1470.9" y="297.9" width="20.8" height="4.7" fill="#bebebe"/>
<rect x="1470.9" y="302.9" width="20.8" height="4.7" fill="#bebebe"/>
<text class="g" fill="#0000ff" transform="matrix(1.21053 0 0 0.16134 1524.10 425.40)">K</text>
<text class="g" fill="#0000ff" transform="matrix(1.39385 0 0 0.17588 1522.88 442.20)">E</text>
<text class="g" fill="#0000ff" transform="matrix(1.23195 0 0 0.13518 1523.96 455.70)">R</text>
<text class="g" fill="#0000ff" transform="matrix(1.27511 0 0 0.11483 1523.67 467.90)">D</text>
<rect x="1532.20" y="472.50" width="78.20" height="1.50" fill="#008000"/>
<text class="g" fill="#008000" transform="matrix(1.16560 0 0 0.02180 1529.30 474.00)">A</text>
<rect x="1532.20" y="477.90" width="78.20" height="1.10" fill="#000000"/>
<rect x="1568.9" y="411.5" width="4.8" height="2.2" fill="#bebebe"/>
<rect x="1568.9" y="414.2" width="4.8" height="2.2" fill="#bebebe"/>
<rect x="1560.9" y="409.1" width="20.8" height="4.7" fill="#bebebe"/>
<rect x="1560.9" y="414.1" width="20.8" height="4.7" fill="#bebebe"/>
<text class="g" fill="#000000" transform="matrix(1.53746 0 0 0.31687 1611.57 432.70)">L</text>
<text class="g" fill="#0000ff" transform="matrix(1.22137 0 0 0.17733 1613.68 448.90)">K</text>
<text class="g" fill="#008000" transform="matrix(1.17603 0 0 0.13227 1618.92 460.70)">A</text>
<text class="g" fill="#0000ff" transform="matrix(1.28652 0 0 0.05959 1613.24 469.90)">D</text>
<rect x="1621.85" y="474.00" width="78.90" height="1.00" fill="#000000"/>
<rect x="1621.85" y="479.00" width="78.90" height="0.90" fill="#000000"/>
<rect x="1621.85" y="483.10" width="78.90" height="2.00" fill="#008000"/>
<text class="g" fill="#008000" transform="matrix(1.17603 0 0 0.02907 1618.92 485.10)">A</text>
<rect x="1658.9" y="407.1" width="4.8" height="3.0" fill="#bebebe"/>
<rect x="1658.9" y="410.7" width="4.8" height="3.0" fill="#bebebe"/>
<rect x="1650.9" y="404.7" width="20.8" height="4.7" fill="#bebebe"/>
<rect x="1650.9" y="411.3" width="20.8" height="4.7" fill="#bebebe"/>
<text class="g" fill="#000000" transform="matrix(1.55719 0 0 1.82707 1701.38 352.90)">F</text>
<text class="g" fill="#000000" transform="matrix(1.53941 0 0 1.53782 1701.50 462.80)">L</text>
<text class="gi" fill="#000000" transform="matrix(1.96588 0 0 0.33400 1692.41 488.80)">I</text>
<rect x="1711.30" y="468.80" width="35.65" height="18.00" fill="#fff"/>
<rect x="1755.64" y="468.80" width="35.65" height="18.00" fill="#fff"/>
<rect x="1711.80" y="492.90" width="79.00" height="1.40" fill="#000000"/>
<text class="g" fill="#000000" transform="matrix(1.53941 0 0 0.02035 1701.50 494.30)">L</text>
<rect x="1748.9" y="225.5" width="4.8" height="1.8" fill="#bebebe"/>
<rect x="1748.9" y="227.7" width="4.8" height="1.8" fill="#bebebe"/>
<rect x="1740.9" y="223.2" width="20.8" height="4.7" fill="#bebebe"/>
<rect x="1740.9" y="227.2" width="20.8" height="4.7" fill="#bebebe"/>
<rect x="1840.70" y="349.00" width="1.20" height="76.00" fill="#0000ff"/>
<rect x="1840.70" y="425.00" width="1.20" height="70.30" fill="#008000"/>
<rect x="1838.9" y="264.6" width="4.8" height="76.0" fill="#bebebe"/>
<rect x="1838.9" y="357.4" width="4.8" height="76.0" fill="#bebebe"/>
<rect x="1830.9" y="262.2" width="20.8" height="4.7" fill="#bebebe"/>
<rect x="1830.9" y="431.0" width="20.8" height="4.7" fill="#bebebe"/>
<rect x="1930.70" y="341.00" width="1.20" height="154.30" fill="#0000ff"/>
<rect x="1928.9" y="250.5" width="4.8" height="81.0" fill="#bebebe"/>
<rect x="1928.9" y="349.5" width="4.8" height="81.0" fill="#bebebe"/>
<rect x="1920.9" y="248.2" width="20.8" height="4.7" fill="#bebebe"/>
<rect x="1920.9" y="428.1" width="20.8" height="4.7" fill="#bebebe"/>
<rect x="2020.70" y="339.00" width="1.20" height="156.30" fill="#0000ff"/>
<rect x="2018.9" y="249.5" width="4.8" height="80.6" fill="#bebebe"/>
<rect x="2018.9" y="347.9" width="4.8" height="80.6" fill="#bebebe"/>
<rect x="2010.9" y="247.2" width="20.8" height="4.7" fill="#bebebe"/>
<rect x="2010.9" y="426.1" width="20.8" height="4.7" fill="#bebebe"/>
<rect x="2110.70" y="346.80" width="1.20" height="148.50" fill="#000000"/>
<rect x="2108.9" y="252.5" width="4.8" height="85.1" fill="#bebebe"/>
<rect x="2108.9" y="356.4" width="4.8" height="85.1" fill="#bebebe"/>
<rect x="2100.9" y="250.2" width="20.8" height="4.7" fill="#bebebe"/>
<rect x="2100.9" y="439.1" width="20.8" height="4.7" fill="#bebebe"/>
<rect x="2200.55" y="352.90" width="1.50" height="79.10" fill="#0000ff"/>
<rect x="2200.55" y="432.30" width="1.50" height="63.00" fill="#000000"/>
<rect x="2198.9" y="276.5" width="4.8" height="68.9" fill="#bebebe"/>
<rect x="2198.9" y="360.6" width="4.8" height="68.9" fill="#bebebe"/>
<rect x="2190.9" y="274.1" width="20.8" height="4.7" fill="#bebebe"/>
<rect x="2190.9" y="427.1" width="20.8" height="4.7" fill="#bebebe"/>
<text class="g" fill="#000000" transform="matrix(1.53356 0 0 0.37646 2241.69 438.80)">L</text>
<text class="g" fill="#0000ff" transform="matrix(1.40276 0 0 0.08285 2242.57 448.50)">E</text>
<text class="g" fill="#000000" transform="matrix(1.20462 0 0 0.06250 2251.13 458.30)">V</text>
<text class="gi" fill="#000000" transform="matrix(1.95842 0 0 0.06376 2232.63 466.40)">I</text>
<rect x="2251.95" y="471.30" width="78.70" height="1.60" fill="#0000ff"/>
<text class="g" fill="#0000ff" transform="matrix(1.21827 0 0 0.02326 2243.80 472.90)">K</text>
<rect x="2251.95" y="477.00" width="78.70" height="1.60" fill="#0000ff"/>
<text class="g" fill="#0000ff" transform="matrix(1.21827 0 0 0.02326 2243.80 478.60)">K</text>
<rect x="2288.9" y="409.2" width="4.8" height="2.7" fill="#bebebe"/>
<rect x="2288.9" y="412.5" width="4.8" height="2.7" fill="#bebebe"/>
<rect x="2280.9" y="406.8" width="20.8" height="4.7" fill="#bebebe"/>
<rect x="2280.9" y="412.8" width="20.8" height="4.7" fill="#bebebe"/>
<rect x="2380.70" y="340.10" width="1.20" height="155.20" fill="#008000"/>
<rect x="2378.9" y="249.5" width="4.8" height="81.0" fill="#bebebe"/>
<rect x="2378.9" y="348.5" width="4.8" height="81.0" fill="#bebebe"/>
<rect x="2370.9" y="247.2" width="20.8" height="4.7" fill="#bebebe"/>
<rect x="2370.9" y="427.1" width="20.8" height="4.7" fill="#bebebe"/>
<text class="g" fill="#0000ff" transform="matrix(1.41346 0 0 0.13954 2422.19 450.60)">E</text>
<text class="g" fill="#008000" transform="matrix(1.18200 0 0 0.04506 2428.71 457.70)">A</text>
<text class="g" fill="#0000ff" transform="matrix(1.41346 0 0 0.04361 2422.19 464.80)">E</text>
<rect x="2431.65" y="467.40" width="79.30" height="1.50" fill="#0000ff"/>
<text class="g" fill="#0000ff" transform="matrix(1.22756 0 0 0.02180 2423.44 468.90)">K</text>
<rect x="2468.9" y="437.2" width="4.8" height="2.2" fill="#bebebe"/>
<rect x="2468.9" y="439.9" width="4.8" height="2.2" fill="#bebebe"/>
<rect x="2460.9" y="434.8" width="20.8" height="4.7" fill="#bebebe"/>
<rect x="2460.9" y="439.8" width="20.8" height="4.7" fill="#bebebe"/>
<text class="g" fill="#008000" transform="matrix(1.17603 0 0 0.85176 2518.92 391.60)">A</text>
<text class="g" fill="#008000" transform="matrix(1.16923 0 0 0.74010 2517.05 447.78)">G</text>
<text class="g" fill="#000000" transform="matrix(1.53746 0 0 0.14535 2511.57 462.90)">L</text>
<text class="g" fill="#000000" transform="matrix(1.20768 0 0 0.14244 2521.02 476.60)">V</text>
<text class="g" fill="#000000" transform="matrix(1.20768 0 0 0.04797 2521.02 484.50)">V</text>
<rect x="2558.9" y="329.7" width="4.8" height="2.4" fill="#bebebe"/>
<rect x="2558.9" y="332.7" width="4.8" height="2.4" fill="#bebebe"/>
<rect x="2550.9" y="327.3" width="20.8" height="4.7" fill="#bebebe"/>
<rect x="2550.9" y="332.7" width="20.8" height="4.7" fill="#bebebe"/>
<text class="g" fill="#000000" transform="matrix(1.53746 0 0 1.05670 2601.57 394.70)">L</text>
<text class="g" fill="#000000" transform="matrix(1.20768 0 0 0.59449 2611.02 440.10)">V</text>
<text class="gi" fill="#000000" transform="matrix(1.96339 0 0 0.25809 2592.48 461.10)">I</text>
<rect x="2611.35" y="446.10" width="35.61" height="13.00" fill="#fff"/>
<rect x="2655.64" y="446.10" width="35.61" height="13.00" fill="#fff"/>
<text class="g" fill="#008000" transform="matrix(1.34209 0 0 0.14244 2602.87 476.60)">H</text>
<text class="g" fill="#000000" transform="matrix(1.20768 0 0 0.08285 2611.02 485.60)">V</text>
<rect x="2648.9" y="318.6" width="4.8" height="2.4" fill="#bebebe"/>
<rect x="2648.9" y="321.6" width="4.8" height="2.4" fill="#bebebe"/>
<rect x="2640.9" y="316.2" width="20.8" height="4.7" fill="#bebebe"/>
<rect x="2640.9" y="321.6" width="20.8" height="4.7" fill="#bebebe"/>
<rect x="2740.70" y="282.20" width="1.20" height="213.80" fill="#000000"/>
<rect x="2738.9" y="207.7" width="4.8" height="66.4" fill="#bebebe"/>
<rect x="2738.9" y="288.9" width="4.8" height="66.4" fill="#bebebe"/>
<rect x="2730.9" y="205.3" width="20.8" height="4.7" fill="#bebebe"/>
<rect x="2730.9" y="352.9" width="20.8" height="4.7" fill="#bebebe"/>
<rect x="2830.70" y="236.90" width="1.20" height="258.00" fill="#008000"/>
<rect x="2828.9" y="146.5" width="4.8" height="81.0" fill="#bebebe"/>
<rect x="2828.9" y="245.5" width="4.8" height="81.0" fill="#bebebe"/>
<rect x="2820.9" y="144.2" width="20.8" height="4.7" fill="#bebebe"/>
<rect x="2820.9" y="324.1" width="20.8" height="4.7" fill="#bebebe"/>
<rect x="2920.70" y="235.10" width="1.20" height="238.90" fill="#0000ff"/>
<rect x="2920.70" y="480.50" width="1.20" height="15.50" fill="#008000"/>
<rect x="2918.9" y="150.5" width="4.8" height="76.5" fill="#bebebe"/>
<rect x="2918.9" y="244.0" width="4.8" height="76.5" fill="#bebebe"/>
<rect x="2910.9" y="148.2" width="20.8" height="4.7" fill="#bebebe"/>
<rect x="2910.9" y="318.1" width="20.8" height="4.7" fill="#bebebe"/>
<rect x="3010.70" y="222.00" width="1.20" height="251.80" fill="#008000"/>
<rect x="3010.70" y="478.70" width="1.20" height="15.90" fill="#0000ff"/>
<rect x="3008.9" y="135.5" width="4.8" height="78.3" fill="#bebebe"/>
<rect x="3008.9" y="231.2" width="4.8" height="78.3" fill="#bebebe"/>
<rect x="3000.9" y="133.2" width="20.8" height="4.7" fill="#bebebe"/>
<rect x="3000.9" y="307.1" width="20.8" height="4.7" fill="#bebebe"/>
<text class="g" fill="#008000" transform="matrix(1.16858 0 0 0.15989 3059.19 427.20)">A</text>
<clipPath id="q4"><rect x="3060.10" y="428.90" width="82.40" height="12.80"/></clipPath>
<g clip-path="url(#q4)"><text class="g" fill="#0000ff" transform="matrix(1.12834 0 0 0.13970 3057.47 440.65)">Q</text></g>
<text class="g" fill="#0000ff" transform="matrix(1.21363 0 0 0.13518 3053.98 454.90)">K</text>
<text class="g" fill="#0000ff" transform="matrix(1.39742 0 0 0.11773 3052.75 467.20)">E</text>
<text class="g" fill="#0000ff" transform="matrix(1.27837 0 0 0.07122 3053.55 476.20)">D</text>
<rect x="3062.10" y="478.70" width="78.40" height="2.40" fill="#008000"/>
<text class="g" fill="#008000" transform="matrix(1.16858 0 0 0.03488 3059.19 481.10)">A</text>
<rect x="3098.9" y="412.5" width="4.8" height="2.2" fill="#bebebe"/>
<rect x="3098.9" y="415.2" width="4.8" height="2.2" fill="#bebebe"/>
<rect x="3090.9" y="410.1" width="20.8" height="4.7" fill="#bebebe"/>
<rect x="3090.9" y="415.1" width="20.8" height="4.7" fill="#bebebe"/>
<rect x="3190.65" y="342.60" width="1.30" height="152.00" fill="#008000"/>
<rect x="3188.9" y="251.4" width="4.8" height="81.9" fill="#bebebe"/>
<rect x="3188.9" y="351.5" width="4.8" height="81.9" fill="#bebebe"/>
<rect x="3180.9" y="249.0" width="20.8" height="4.7" fill="#bebebe"/>
<rect x="3180.9" y="431.0" width="20.8" height="4.7" fill="#bebebe"/>
<rect x="3280.70" y="334.00" width="1.20" height="161.80" fill="#0000ff"/>
<rect x="3278.9" y="244.5" width="4.8" height="80.6" fill="#bebebe"/>
<rect x="3278.9" y="342.9" width="4.8" height="80.6" fill="#bebebe"/>
<rect x="3270.9" y="242.2" width="20.8" height="4.7" fill="#bebebe"/>
<rect x="3270.9" y="421.1" width="20.8" height="4.7" fill="#bebebe"/>
<rect x="3370.70" y="336.50" width="1.20" height="159.30" fill="#008000"/>
<rect x="3368.9" y="247.5" width="4.8" height="80.6" fill="#bebebe"/>
<rect x="3368.9" y="345.9" width="4.8" height="80.6" fill="#bebebe"/>
<rect x="3360.9" y="245.2" width="20.8" height="4.7" fill="#bebebe"/>
<rect x="3360.9" y="424.1" width="20.8" height="4.7" fill="#bebebe"/>
<rect x="3460.70" y="342.10" width="1.20" height="115.60" fill="#000000"/>
<rect x="3458.9" y="251.6" width="4.8" height="81.4" fill="#bebebe"/>
<rect x="3458.9" y="351.0" width="4.8" height="81.4" fill="#bebebe"/>
<rect x="3450.9" y="249.2" width="20.8" height="4.7" fill="#bebebe"/>
<rect x="3450.9" y="430.0" width="20.8" height="4.7" fill="#bebebe"/>
<text class="g" fill="#0000ff" transform="matrix(1.22292 0 0 0.44623 3503.62 427.80)">K</text>
<text class="g" fill="#000000" transform="matrix(1.53941 0 0 0.23692 3501.50 447.50)">L</text>
<text class="g" fill="#0000ff" transform="matrix(1.40811 0 0 0.08285 3502.38 457.70)">E</text>
<rect x="3511.80" y="462.80" width="79.00" height="1.60" fill="#0000ff"/>
<text class="g" fill="#0000ff" transform="matrix(1.22292 0 0 0.02326 3503.62 464.40)">K</text>
<rect x="3511.80" y="468.50" width="79.00" height="1.40" fill="#000000"/>
<text class="g" fill="#000000" transform="matrix(1.53941 0 0 0.02035 3501.50 469.90)">L</text>
<rect x="3511.80" y="474.40" width="79.00" height="1.00" fill="#0000ff"/>
<rect x="3511.80" y="478.60" width="79.00" height="1.90" fill="#000000"/>
<text class="g" fill="#000000" transform="matrix(1.53941 0 0 0.02762 3501.50 480.50)">L</text>
<rect x="3548.9" y="393.5" width="4.8" height="2.7" fill="#bebebe"/>
<rect x="3548.9" y="396.8" width="4.8" height="2.7" fill="#bebebe"/>
<rect x="3540.9" y="391.1" width="20.8" height="4.7" fill="#bebebe"/>
<rect x="3540.9" y="397.1" width="20.8" height="4.7" fill="#bebebe"/>
<rect x="3640.70" y="333.00" width="1.20" height="162.30" fill="#0000ff"/>
<rect x="3638.9" y="247.4" width="4.8" height="76.5" fill="#bebebe"/>
<rect x="3638.9" y="340.9" width="4.8" height="76.5" fill="#bebebe"/>
<rect x="3630.9" y="245.0" width="20.8" height="4.7" fill="#bebebe"/>
<rect x="3630.9" y="415.0" width="20.8" height="4.7" fill="#bebebe"/>
<text class="g" fill="#000000" transform="matrix(1.26698 0 0 0.82850 3688.98 345.80)">Y</text>
<text class="g" fill="#008000" transform="matrix(1.36590 0 0 0.59158 3682.01 391.60)">H</text>
<text class="g" fill="#000000" transform="matrix(1.58281 0 0 0.43169 3680.56 425.70)">F</text>
<text class="g" fill="#000000" transform="matrix(1.56474 0 0 0.42007 3680.68 458.70)">L</text>
<text class="g" fill="#000000" transform="matrix(1.22911 0 0 0.19186 3690.31 477.00)">V</text>
<rect x="3691.15" y="480.70" width="80.30" height="2.00" fill="#0000ff"/>
<text class="g" fill="#0000ff" transform="matrix(1.24304 0 0 0.02907 3682.83 482.70)">K</text>
<rect x="3728.9" y="286.5" width="4.8" height="2.7" fill="#bebebe"/>
<rect x="3728.9" y="289.8" width="4.8" height="2.7" fill="#bebebe"/>
<rect x="3720.9" y="284.1" width="20.8" height="4.7" fill="#bebebe"/>
<rect x="3720.9" y="290.1" width="20.8" height="4.7" fill="#bebebe"/>
<rect x="3820.70" y="337.00" width="1.20" height="158.30" fill="#000000"/>
<rect x="3818.9" y="247.5" width="4.8" height="80.6" fill="#bebebe"/>
<rect x="3818.9" y="345.9" width="4.8" height="80.6" fill="#bebebe"/>
<rect x="3810.9" y="245.2" width="20.8" height="4.7" fill="#bebebe"/>
<rect x="3810.9" y="424.1" width="20.8" height="4.7" fill="#bebebe"/>
<rect x="310.70" y="915.90" width="1.20" height="157.00" fill="#0000ff"/>
<rect x="308.9" y="825.5" width="4.8" height="81.0" fill="#bebebe"/>
<rect x="308.9" y="924.5" width="4.8" height="81.0" fill="#bebebe"/>
<rect x="300.9" y="823.1" width="20.8" height="4.7" fill="#bebebe"/>
<rect x="300.9" y="1003.1" width="20.8" height="4.7" fill="#bebebe"/>
<rect x="400.70" y="930.10" width="1.20" height="148.90" fill="#000000"/>
<rect x="398.9" y="835.5" width="4.8" height="85.5" fill="#bebebe"/>
<rect x="398.9" y="940.0" width="4.8" height="85.5" fill="#bebebe"/>
<rect x="390.9" y="833.1" width="20.8" height="4.7" fill="#bebebe"/>
<rect x="390.9" y="1023.1" width="20.8" height="4.7" fill="#bebebe"/>
<text class="g" fill="#008000" transform="matrix(1.19146 0 0 3.10307 446.21 1015.97)">G</text>
<text class="g" fill="#0000ff" transform="matrix(1.31098 0 0 0.52617 442.33 1058.70)">D</text>
<text class="g" fill="#008000" transform="matrix(1.42070 0 0 0.05814 441.60 1066.80)">P</text>
<rect x="488.9" y="795.5" width="4.8" height="3.1" fill="#bebebe"/>
<rect x="488.9" y="799.4" width="4.8" height="3.1" fill="#bebebe"/>
<rect x="480.9" y="793.1" width="20.8" height="4.7" fill="#bebebe"/>
<rect x="480.9" y="800.1" width="20.8" height="4.7" fill="#bebebe"/>
<text class="g" fill="#0000ff" transform="matrix(1.23840 0 0 0.26599 533.02 1022.10)">K</text>
<text class="g" fill="#0000ff" transform="matrix(1.26031 0 0 0.11192 532.87 1033.90)">R</text>
<text class="g" fill="#0000ff" transform="matrix(1.42594 0 0 0.04651 531.76 1042.00)">E</text>
<text class="g" fill="#0000ff" transform="matrix(1.26031 0 0 0.05523 532.87 1049.50)">R</text>
<text class="g" fill="#008000" transform="matrix(1.19243 0 0 0.04361 538.33 1054.60)">A</text>
<rect x="578.9" y="1000.6" width="4.8" height="2.7" fill="#bebebe"/>
<rect x="578.9" y="1003.9" width="4.8" height="2.7" fill="#bebebe"/>
<rect x="570.9" y="998.2" width="20.8" height="4.7" fill="#bebebe"/>
<rect x="570.9" y="1004.2" width="20.8" height="4.7" fill="#bebebe"/>
<text class="g" fill="#008000" transform="matrix(1.18553 0 0 0.88135 626.44 993.14)">G</text>
<text class="g" fill="#0000ff" transform="matrix(1.30446 0 0 0.38373 622.57 1025.10)">D</text>
<text class="g" fill="#0000ff" transform="matrix(1.26031 0 0 0.23692 622.87 1044.90)">R</text>
<text class="g" fill="#008000" transform="matrix(1.19243 0 0 0.05378 628.33 1052.60)">A</text>
<text class="g" fill="#0000ff" transform="matrix(1.23840 0 0 0.04361 623.02 1059.70)">K</text>
<rect x="631.30" y="1062.80" width="80.00" height="2.00" fill="#0000ff"/>
<text class="g" fill="#0000ff" transform="matrix(1.23840 0 0 0.02907 623.02 1064.80)">K</text>
<rect x="631.30" y="1067.90" width="80.00" height="1.40" fill="#0000ff"/>
<text class="g" fill="#0000ff" transform="matrix(1.23840 0 0 0.02035 623.02 1069.30)">K</text>
<rect x="668.9" y="927.0" width="4.8" height="2.7" fill="#bebebe"/>
<rect x="668.9" y="930.3" width="4.8" height="2.7" fill="#bebebe"/>
<rect x="660.9" y="924.6" width="20.8" height="4.7" fill="#bebebe"/>
<rect x="660.9" y="930.6" width="20.8" height="4.7" fill="#bebebe"/>
<text class="g" fill="#008000" transform="matrix(0.23774 0 0 1.36049 754.03 1009.90)">T</text>
<text class="g" fill="#008000" transform="matrix(0.20868 0 0 0.13227 753.78 1024.10)">A</text>
<text class="g" fill="#008000" transform="matrix(0.23368 0 0 0.06638 753.63 1033.24)">S</text>
<text class="g" fill="#0000ff" transform="matrix(0.23814 0 0 0.05378 752.71 1040.40)">N</text>
<text class="g" fill="#000000" transform="matrix(0.21429 0 0 0.03924 754.15 1046.10)">V</text>
<text class="g" fill="#008000" transform="matrix(0.20868 0 0 0.04506 753.78 1052.60)">A</text>
<rect x="754.30" y="1055.00" width="14.00" height="2.00" fill="#000000"/>
<text class="g" fill="#000000" transform="matrix(0.27281 0 0 0.02907 752.48 1057.00)">L</text>
<rect x="758.9" y="906.5" width="4.8" height="9.0" fill="#bebebe"/>
<rect x="758.9" y="917.5" width="4.8" height="9.0" fill="#bebebe"/>
<rect x="750.9" y="904.1" width="20.8" height="4.7" fill="#bebebe"/>
<rect x="750.9" y="924.1" width="20.8" height="4.7" fill="#bebebe"/>
<text class="g" fill="#000000" transform="matrix(0.09743 0 0 0.20349 848.15 998.00)">L</text>
<text class="g" fill="#0000ff" transform="matrix(0.08505 0 0 0.16279 848.23 1014.00)">N</text>
<text class="g" fill="#008000" transform="matrix(0.07410 0 0 0.11582 848.50 1027.09)">G</text>
<text class="gi" fill="#000000" transform="matrix(0.12442 0 0 0.07135 847.57 1035.90)">I</text>
<text class="g" fill="#0000ff" transform="matrix(0.07740 0 0 0.04070 848.28 1042.80)">K</text>
<rect x="848.80" y="1046.90" width="5.00" height="2.10" fill="#0000ff"/>
<text class="g" fill="#0000ff" transform="matrix(0.07740 0 0 0.03052 848.28 1049.00)">K</text>
<rect x="848.80" y="1055.70" width="5.00" height="2.00" fill="#000000"/>
<text class="g" fill="#000000" transform="matrix(0.09743 0 0 0.02907 848.15 1057.70)">L</text>
<rect x="848.9" y="971.5" width="4.8" height="11.7" fill="#bebebe"/>
<rect x="848.9" y="985.8" width="4.8" height="11.7" fill="#bebebe"/>
<rect x="840.9" y="969.1" width="20.8" height="4.7" fill="#bebebe"/>
<rect x="840.9" y="995.1" width="20.8" height="4.7" fill="#bebebe"/>
<rect x="939.80" y="995.00" width="3.00" height="15.00" fill="#008000"/>
<rect x="939.80" y="1020.00" width="3.00" height="4.00" fill="#008000"/>
<rect x="939.80" y="1029.00" width="3.00" height="5.00" fill="#000000"/>
<rect x="939.80" y="1038.00" width="3.00" height="3.40" fill="#0000ff"/>
<rect x="939.80" y="1046.50" width="3.00" height="2.00" fill="#0000ff"/>
<rect x="939.80" y="1051.50" width="3.00" height="1.10" fill="#008000"/>
<rect x="938.9" y="975.6" width="4.8" height="17.8" fill="#bebebe"/>
<rect x="938.9" y="997.4" width="4.8" height="17.8" fill="#bebebe"/>
<rect x="930.9" y="973.2" width="20.8" height="4.7" fill="#bebebe"/>
<rect x="930.9" y="1012.8" width="20.8" height="4.7" fill="#bebebe"/>
<rect x="1030.30" y="1020.00" width="2.00" height="2.00" fill="#008000"/>
<rect x="1030.30" y="1044.50" width="2.00" height="10.10" fill="#008000"/>
<rect x="1028.9" y="1000.5" width="4.8" height="17.5" fill="#bebebe"/>
<rect x="1028.9" y="1022.0" width="4.8" height="17.5" fill="#bebebe"/>
<rect x="1020.9" y="998.1" width="20.8" height="4.7" fill="#bebebe"/>
<rect x="1020.9" y="1037.2" width="20.8" height="4.7" fill="#bebebe"/>
<rect x="1120.30" y="994.60" width="2.00" height="5.40" fill="#000000"/>
<rect x="1120.30" y="1019.00" width="2.00" height="15.70" fill="#0000ff"/>
<rect x="1120.30" y="1038.80" width="2.00" height="6.70" fill="#000000"/>
<rect x="1120.30" y="1050.60" width="2.00" height="3.00" fill="#008000"/>
<rect x="1118.9" y="972.7" width="4.8" height="19.6" fill="#bebebe"/>
<rect x="1118.9" y="996.7" width="4.8" height="19.6" fill="#bebebe"/>
<rect x="1110.9" y="970.4" width="20.8" height="4.7" fill="#bebebe"/>
<rect x="1110.9" y="1013.9" width="20.8" height="4.7" fill="#bebebe"/>
<rect x="1210.70" y="978.00" width="1.20" height="35.00" fill="#008000"/>
<rect x="1210.70" y="1015.20" width="1.20" height="14.80" fill="#000000"/>
<rect x="1210.70" y="1035.00" width="1.20" height="11.00" fill="#008000"/>
<rect x="1210.70" y="1050.00" width="1.20" height="1.00" fill="#0000ff"/>
<rect x="1210.70" y="1056.00" width="1.20" height="1.00" fill="#008000"/>
<rect x="1208.9" y="950.6" width="4.8" height="25.1" fill="#bebebe"/>
<rect x="1208.9" y="981.3" width="4.8" height="25.1" fill="#bebebe"/>
<rect x="1200.9" y="948.2" width="20.8" height="4.7" fill="#bebebe"/>
<rect x="1200.9" y="1004.0" width="20.8" height="4.7" fill="#bebebe"/>
<rect x="1300.70" y="994.00" width="1.20" height="25.00" fill="#0000ff"/>
<rect x="1300.70" y="1021.90" width="1.20" height="10.10" fill="#008000"/>
<rect x="1300.70" y="1036.10" width="1.20" height="5.10" fill="#000000"/>
<rect x="1300.70" y="1046.30" width="1.20" height="4.10" fill="#0000ff"/>
<rect x="1300.70" y="1057.50" width="1.20" height="2.00" fill="#0000ff"/>
<rect x="1298.9" y="967.6" width="4.8" height="23.4" fill="#bebebe"/>
<rect x="1298.9" y="996.2" width="4.8" height="23.4" fill="#bebebe"/>
<rect x="1290.9" y="965.2" width="20.8" height="4.7" fill="#bebebe"/>
<rect x="1290.9" y="1017.2" width="20.8" height="4.7" fill="#bebebe"/>
<rect x="1390.70" y="1020.90" width="1.20" height="24.10" fill="#0000ff"/>
<rect x="1390.70" y="1048.30" width="1.20" height="6.10" fill="#0000ff"/>
<rect x="1388.9" y="996.4" width="4.8" height="22.1" fill="#bebebe"/>
<rect x="1388.9" y="1023.5" width="4.8" height="22.1" fill="#bebebe"/>
<rect x="1380.9" y="994.0" width="20.8" height="4.7" fill="#bebebe"/>
<rect x="1380.9" y="1043.2" width="20.8" height="4.7" fill="#bebebe"/>
<rect x="1480.70" y="982.20" width="1.20" height="36.80" fill="#008000"/>
<rect x="1480.70" y="1021.90" width="1.20" height="14.20" fill="#0000ff"/>
<rect x="1480.70" y="1040.20" width="1.20" height="5.10" fill="#008000"/>
<rect x="1480.70" y="1050.40" width="1.20" height="1.40" fill="#000000"/>
<rect x="1478.9" y="943.5" width="4.8" height="34.2" fill="#bebebe"/>
<rect x="1478.9" y="985.3" width="4.8" height="34.2" fill="#bebebe"/>
<rect x="1470.9" y="941.1" width="20.8" height="4.7" fill="#bebebe"/>
<rect x="1470.9" y="1017.1" width="20.8" height="4.7" fill="#bebebe"/>
<rect x="1570.70" y="994.40" width="1.20" height="27.60" fill="#008000"/>
<rect x="1570.70" y="1025.00" width="1.20" height="5.00" fill="#008000"/>
<rect x="1570.70" y="1036.10" width="1.20" height="5.10" fill="#000000"/>
<rect x="1570.70" y="1046.30" width="1.20" height="11.20" fill="#0000ff"/>
<rect x="1570.70" y="1061.60" width="1.20" height="8.10" fill="#000000"/>
<rect x="1568.9" y="964.6" width="4.8" height="26.1" fill="#bebebe"/>
<rect x="1568.9" y="996.5" width="4.8" height="26.1" fill="#bebebe"/>
<rect x="1560.9" y="962.2" width="20.8" height="4.7" fill="#bebebe"/>
<rect x="1560.9" y="1020.2" width="20.8" height="4.7" fill="#bebebe"/>
<rect x="1660.70" y="1015.80" width="1.20" height="24.20" fill="#008000"/>
<rect x="1660.70" y="1046.30" width="1.20" height="2.00" fill="#008000"/>
<rect x="1660.70" y="1053.00" width="1.20" height="1.00" fill="#0000ff"/>
<rect x="1658.9" y="987.6" width="4.8" height="24.3" fill="#bebebe"/>
<rect x="1658.9" y="1017.3" width="4.8" height="24.3" fill="#bebebe"/>
<rect x="1650.9" y="985.2" width="20.8" height="4.7" fill="#bebebe"/>
<rect x="1650.9" y="1039.2" width="20.8" height="4.7" fill="#bebebe"/>
<rect x="1750.70" y="1024.50" width="1.20" height="25.50" fill="#008000"/>
<rect x="1750.70" y="1056.00" width="1.20" height="1.00" fill="#0000ff"/>
<rect x="1748.9" y="995.7" width="4.8" height="25.6" fill="#bebebe"/>
<rect x="1748.9" y="1027.0" width="4.8" height="25.7" fill="#bebebe"/>
<rect x="1740.9" y="993.4" width="20.8" height="4.7" fill="#bebebe"/>
<rect x="1740.9" y="1050.4" width="20.8" height="4.7" fill="#bebebe"/>
<rect x="1838.9" y="1010.5" width="4.8" height="23.4" fill="#bebebe"/>
<rect x="1838.9" y="1039.1" width="4.8" height="23.4" fill="#bebebe"/>
<rect x="1830.9" y="1008.1" width="20.8" height="4.7" fill="#bebebe"/>
<rect x="1830.9" y="1060.2" width="20.8" height="4.7" fill="#bebebe"/>
<rect x="1930.70" y="1034.10" width="1.20" height="1.90" fill="#008000"/>
<rect x="1928.9" y="1006.4" width="4.8" height="24.8" fill="#bebebe"/>
<rect x="1928.9" y="1036.7" width="4.8" height="24.8" fill="#bebebe"/>
<rect x="1920.9" y="1004.1" width="20.8" height="4.7" fill="#bebebe"/>
<rect x="1920.9" y="1059.1" width="20.8" height="4.7" fill="#bebebe"/>
<rect x="2020.70" y="999.50" width="1.20" height="40.50" fill="#008000"/>
<rect x="2020.70" y="1047.00" width="1.20" height="1.00" fill="#008000"/>
<rect x="2018.9" y="956.5" width="4.8" height="37.8" fill="#bebebe"/>
<rect x="2018.9" y="1002.7" width="4.8" height="37.8" fill="#bebebe"/>
<rect x="2010.9" y="954.1" width="20.8" height="4.7" fill="#bebebe"/>
<rect x="2010.9" y="1038.2" width="20.8" height="4.7" fill="#bebebe"/>
<rect x="2110.70" y="976.30" width="1.20" height="53.70" fill="#000000"/>
<rect x="2110.70" y="1035.30" width="1.20" height="15.30" fill="#008000"/>
<rect x="2110.70" y="1053.60" width="1.20" height="25.40" fill="#000000"/>
<rect x="2108.9" y="922.5" width="4.8" height="47.7" fill="#bebebe"/>
<rect x="2108.9" y="980.8" width="4.8" height="47.7" fill="#bebebe"/>
<rect x="2100.9" y="920.1" width="20.8" height="4.7" fill="#bebebe"/>
<rect x="2100.9" y="1026.2" width="20.8" height="4.7" fill="#bebebe"/>
<rect x="2200.70" y="991.60" width="1.20" height="38.40" fill="#008000"/>
<rect x="2200.70" y="1037.30" width="1.20" height="5.10" fill="#000000"/>
<rect x="2200.70" y="1045.50" width="1.20" height="6.10" fill="#008000"/>
<rect x="2200.70" y="1055.70" width="1.20" height="5.00" fill="#0000ff"/>
<rect x="2198.9" y="950.4" width="4.8" height="36.4" fill="#bebebe"/>
<rect x="2198.9" y="994.8" width="4.8" height="36.4" fill="#bebebe"/>
<rect x="2190.9" y="948.0" width="20.8" height="4.7" fill="#bebebe"/>
<rect x="2190.9" y="1028.9" width="20.8" height="4.7" fill="#bebebe"/>
<rect x="2290.70" y="991.60" width="1.20" height="48.40" fill="#008000"/>
<rect x="2290.70" y="1043.40" width="1.20" height="12.30" fill="#000000"/>
<rect x="2288.9" y="941.5" width="4.8" height="44.1" fill="#bebebe"/>
<rect x="2288.9" y="995.4" width="4.8" height="44.1" fill="#bebebe"/>
<rect x="2280.9" y="939.1" width="20.8" height="4.7" fill="#bebebe"/>
<rect x="2280.9" y="1037.2" width="20.8" height="4.7" fill="#bebebe"/>
<rect x="2380.70" y="969.20" width="1.20" height="55.80" fill="#0000ff"/>
<rect x="2380.70" y="1032.30" width="1.20" height="10.10" fill="#000000"/>
<rect x="2380.70" y="1052.60" width="1.20" height="5.10" fill="#0000ff"/>
<rect x="2380.70" y="1062.80" width="1.20" height="6.10" fill="#008000"/>
<rect x="2380.70" y="1073.00" width="1.20" height="6.00" fill="#000000"/>
<rect x="2378.9" y="913.5" width="4.8" height="50.0" fill="#bebebe"/>
<rect x="2378.9" y="974.5" width="4.8" height="50.0" fill="#bebebe"/>
<rect x="2370.9" y="911.1" width="20.8" height="4.7" fill="#bebebe"/>
<rect x="2370.9" y="1022.1" width="20.8" height="4.7" fill="#bebebe"/>
<rect x="2470.70" y="933.00" width="1.20" height="67.00" fill="#008000"/>
<rect x="2470.70" y="1001.70" width="1.20" height="26.50" fill="#0000ff"/>
<rect x="2470.70" y="1033.30" width="1.20" height="13.20" fill="#000000"/>
<rect x="2470.70" y="1048.50" width="1.20" height="13.20" fill="#0000ff"/>
<rect x="2470.70" y="1066.80" width="1.20" height="12.20" fill="#008000"/>
<rect x="2468.9" y="866.5" width="4.8" height="59.9" fill="#bebebe"/>
<rect x="2468.9" y="939.6" width="4.8" height="59.9" fill="#bebebe"/>
<rect x="2460.9" y="864.1" width="20.8" height="4.7" fill="#bebebe"/>
<rect x="2460.9" y="997.1" width="20.8" height="4.7" fill="#bebebe"/>
<rect x="2560.70" y="934.00" width="1.20" height="94.20" fill="#000000"/>
<rect x="2560.70" y="1034.30" width="1.20" height="44.70" fill="#008000"/>
<rect x="2558.9" y="855.2" width="4.8" height="70.6" fill="#bebebe"/>
<rect x="2558.9" y="941.6" width="4.8" height="70.6" fill="#bebebe"/>
<rect x="2550.9" y="852.9" width="20.8" height="4.7" fill="#bebebe"/>
<rect x="2550.9" y="1009.9" width="20.8" height="4.7" fill="#bebebe"/>
<rect x="2650.70" y="929.10" width="1.20" height="118.40" fill="#008000"/>
<rect x="2650.70" y="1051.60" width="1.20" height="27.40" fill="#0000ff"/>
<rect x="2648.9" y="847.4" width="4.8" height="72.9" fill="#bebebe"/>
<rect x="2648.9" y="936.5" width="4.8" height="72.9" fill="#bebebe"/>
<rect x="2640.9" y="845.0" width="20.8" height="4.7" fill="#bebebe"/>
<rect x="2640.9" y="1007.0" width="20.8" height="4.7" fill="#bebebe"/>
<rect x="2740.70" y="936.00" width="1.20" height="84.00" fill="#008000"/>
<rect x="2740.70" y="1022.00" width="1.20" height="57.00" fill="#000000"/>
<rect x="2738.9" y="853.4" width="4.8" height="74.7" fill="#bebebe"/>
<rect x="2738.9" y="944.7" width="4.8" height="74.7" fill="#bebebe"/>
<rect x="2730.9" y="851.0" width="20.8" height="4.7" fill="#bebebe"/>
<rect x="2730.9" y="1017.0" width="20.8" height="4.7" fill="#bebebe"/>
<rect x="2830.70" y="933.00" width="1.20" height="146.00" fill="#000000"/>
<rect x="2828.9" y="846.5" width="4.8" height="77.8" fill="#bebebe"/>
<rect x="2828.9" y="941.5" width="4.8" height="77.8" fill="#bebebe"/>
<rect x="2820.9" y="844.1" width="20.8" height="4.7" fill="#bebebe"/>
<rect x="2820.9" y="1016.9" width="20.8" height="4.7" fill="#bebebe"/>
<rect x="2920.70" y="896.00" width="1.20" height="183.00" fill="#000000"/>
<rect x="2918.9" y="793.4" width="4.8" height="91.8" fill="#bebebe"/>
<rect x="2918.9" y="905.6" width="4.8" height="91.8" fill="#bebebe"/>
<rect x="2910.9" y="791.0" width="20.8" height="4.7" fill="#bebebe"/>
<rect x="2910.9" y="995.0" width="20.8" height="4.7" fill="#bebebe"/>
<rect x="3010.55" y="915.90" width="1.50" height="157.10" fill="#0000ff"/>
<rect x="3008.9" y="825.5" width="4.8" height="81.0" fill="#bebebe"/>
<rect x="3008.9" y="924.5" width="4.8" height="81.0" fill="#bebebe"/>
<rect x="3000.9" y="823.1" width="20.8" height="4.7" fill="#bebebe"/>
<rect x="3000.9" y="1003.1" width="20.8" height="4.7" fill="#bebebe"/>
<rect x="3100.70" y="924.00" width="1.20" height="155.00" fill="#0000ff"/>
<rect x="3098.9" y="833.7" width="4.8" height="81.3" fill="#bebebe"/>
<rect x="3098.9" y="933.0" width="4.8" height="81.3" fill="#bebebe"/>
<rect x="3090.9" y="831.4" width="20.8" height="4.7" fill="#bebebe"/>
<rect x="3090.9" y="1011.9" width="20.8" height="4.7" fill="#bebebe"/>
<rect x="3190.70" y="917.00" width="1.20" height="162.00" fill="#0000ff"/>
<rect x="3188.9" y="827.5" width="4.8" height="80.5" fill="#bebebe"/>
<rect x="3188.9" y="926.0" width="4.8" height="80.5" fill="#bebebe"/>
<rect x="3180.9" y="825.1" width="20.8" height="4.7" fill="#bebebe"/>
<rect x="3180.9" y="1004.1" width="20.8" height="4.7" fill="#bebebe"/>
<rect x="3280.70" y="896.00" width="1.20" height="183.00" fill="#000000"/>
<rect x="3278.9" y="793.4" width="4.8" height="91.8" fill="#bebebe"/>
<rect x="3278.9" y="905.6" width="4.8" height="91.8" fill="#bebebe"/>
<rect x="3270.9" y="791.0" width="20.8" height="4.7" fill="#bebebe"/>
<rect x="3270.9" y="995.0" width="20.8" height="4.7" fill="#bebebe"/>
<rect x="3370.70" y="910.20" width="1.20" height="168.80" fill="#000000"/>
<rect x="3368.9" y="818.4" width="4.8" height="82.8" fill="#bebebe"/>
<rect x="3368.9" y="919.6" width="4.8" height="82.8" fill="#bebebe"/>
<rect x="3360.9" y="816.0" width="20.8" height="4.7" fill="#bebebe"/>
<rect x="3360.9" y="1000.0" width="20.8" height="4.7" fill="#bebebe"/>
<rect x="3460.65" y="926.90" width="1.30" height="152.10" fill="#008000"/>
<rect x="3458.9" y="835.7" width="4.8" height="82.2" fill="#bebebe"/>
<rect x="3458.9" y="936.1" width="4.8" height="82.2" fill="#bebebe"/>
<rect x="3450.9" y="833.4" width="20.8" height="4.7" fill="#bebebe"/>
<rect x="3450.9" y="1015.9" width="20.8" height="4.7" fill="#bebebe"/>
<rect x="3550.70" y="927.00" width="1.20" height="8.00" fill="#0000ff"/>
<rect x="3550.70" y="936.00" width="1.20" height="143.00" fill="#008000"/>
<rect x="3548.9" y="844.5" width="4.8" height="74.7" fill="#bebebe"/>
<rect x="3548.9" y="935.8" width="4.8" height="74.7" fill="#bebebe"/>
<rect x="3540.9" y="842.1" width="20.8" height="4.7" fill="#bebebe"/>
<rect x="3540.9" y="1008.1" width="20.8" height="4.7" fill="#bebebe"/>
<rect x="3640.70" y="931.00" width="1.20" height="148.00" fill="#008000"/>
<rect x="3638.9" y="846.3" width="4.8" height="75.6" fill="#bebebe"/>
<rect x="3638.9" y="938.7" width="4.8" height="75.6" fill="#bebebe"/>
<rect x="3630.9" y="843.9" width="20.8" height="4.7" fill="#bebebe"/>
<rect x="3630.9" y="1011.9" width="20.8" height="4.7" fill="#bebebe"/>
<rect x="3730.70" y="938.00" width="1.20" height="92.00" fill="#008000"/>
<rect x="3730.70" y="1034.90" width="1.20" height="44.10" fill="#0000ff"/>
<rect x="3728.9" y="859.6" width="4.8" height="70.0" fill="#bebebe"/>
<rect x="3728.9" y="945.2" width="4.8" height="70.0" fill="#bebebe"/>
<rect x="3720.9" y="857.2" width="20.8" height="4.7" fill="#bebebe"/>
<rect x="3720.9" y="1012.8" width="20.8" height="4.7" fill="#bebebe"/>
<rect x="3820.70" y="956.00" width="1.20" height="80.70" fill="#008000"/>
<rect x="3820.70" y="1041.40" width="1.20" height="37.60" fill="#000000"/>
<rect x="3818.9" y="884.4" width="4.8" height="63.9" fill="#bebebe"/>
<rect x="3818.9" y="962.5" width="4.8" height="63.9" fill="#bebebe"/>
<rect x="3810.9" y="882.0" width="20.8" height="4.7" fill="#bebebe"/>
<rect x="3810.9" y="1024.1" width="20.8" height="4.7" fill="#bebebe"/>
<rect x="310.70" y="1547.20" width="1.20" height="5.00" fill="#008000"/>
<rect x="310.70" y="1615.30" width="1.20" height="29.50" fill="#000000"/>
<rect x="310.70" y="1649.90" width="1.20" height="13.20" fill="#0000ff"/>
<rect x="308.9" y="1485.4" width="4.8" height="54.9" fill="#bebebe"/>
<rect x="308.9" y="1552.5" width="4.8" height="54.9" fill="#bebebe"/>
<rect x="300.9" y="1483.1" width="20.8" height="4.7" fill="#bebebe"/>
<rect x="300.9" y="1605.1" width="20.8" height="4.7" fill="#bebebe"/>
<rect x="400.70" y="1540.00" width="1.20" height="62.00" fill="#000000"/>
<rect x="400.70" y="1602.00" width="1.20" height="22.50" fill="#0000ff"/>
<rect x="400.70" y="1626.50" width="1.20" height="10.20" fill="#008000"/>
<rect x="400.70" y="1640.70" width="1.20" height="22.40" fill="#000000"/>
<rect x="398.9" y="1478.3" width="4.8" height="54.9" fill="#bebebe"/>
<rect x="398.9" y="1545.4" width="4.8" height="54.9" fill="#bebebe"/>
<rect x="390.9" y="1476.0" width="20.8" height="4.7" fill="#bebebe"/>
<rect x="390.9" y="1598.0" width="20.8" height="4.7" fill="#bebebe"/>
<rect x="490.70" y="1545.00" width="1.20" height="59.00" fill="#000000"/>
<rect x="490.70" y="1609.20" width="1.20" height="13.20" fill="#0000ff"/>
<rect x="490.70" y="1626.00" width="1.20" height="6.00" fill="#008000"/>
<rect x="490.70" y="1636.00" width="1.20" height="16.00" fill="#0000ff"/>
<rect x="490.70" y="1656.00" width="1.20" height="6.00" fill="#008000"/>
<rect x="488.9" y="1489.5" width="4.8" height="49.9" fill="#bebebe"/>
<rect x="488.9" y="1550.4" width="4.8" height="49.9" fill="#bebebe"/>
<rect x="480.9" y="1487.2" width="20.8" height="4.7" fill="#bebebe"/>
<rect x="480.9" y="1598.0" width="20.8" height="4.7" fill="#bebebe"/>
<rect x="580.70" y="1561.40" width="1.20" height="5.10" fill="#000000"/>
<rect x="580.70" y="1617.30" width="1.20" height="7.20" fill="#008000"/>
<rect x="580.70" y="1630.00" width="1.20" height="32.00" fill="#000000"/>
<rect x="578.9" y="1510.5" width="4.8" height="46.3" fill="#bebebe"/>
<rect x="578.9" y="1567.2" width="4.8" height="46.3" fill="#bebebe"/>
<rect x="570.9" y="1508.2" width="20.8" height="4.7" fill="#bebebe"/>
<rect x="570.9" y="1611.2" width="20.8" height="4.7" fill="#bebebe"/>
<rect x="670.70" y="1554.90" width="1.20" height="61.40" fill="#0000ff"/>
<rect x="670.70" y="1620.40" width="1.20" height="16.30" fill="#008000"/>
<rect x="670.70" y="1640.00" width="1.20" height="22.00" fill="#000000"/>
<rect x="668.9" y="1514.5" width="4.8" height="36.4" fill="#bebebe"/>
<rect x="668.9" y="1558.9" width="4.8" height="36.4" fill="#bebebe"/>
<rect x="660.9" y="1512.2" width="20.8" height="4.7" fill="#bebebe"/>
<rect x="660.9" y="1593.0" width="20.8" height="4.7" fill="#bebebe"/>
<rect x="760.70" y="1581.60" width="1.20" height="2.00" fill="#000000"/>
<rect x="760.70" y="1622.20" width="1.20" height="15.30" fill="#008000"/>
<rect x="760.70" y="1642.60" width="1.20" height="2.00" fill="#000000"/>
<rect x="758.9" y="1542.5" width="4.8" height="34.7" fill="#bebebe"/>
<rect x="758.9" y="1584.8" width="4.8" height="34.7" fill="#bebebe"/>
<rect x="750.9" y="1540.2" width="20.8" height="4.7" fill="#bebebe"/>
<rect x="750.9" y="1617.2" width="20.8" height="4.7" fill="#bebebe"/>
<rect x="850.70" y="1586.60" width="1.20" height="4.10" fill="#0000ff"/>
<rect x="850.70" y="1626.30" width="1.20" height="17.30" fill="#0000ff"/>
<rect x="850.70" y="1648.00" width="1.20" height="4.80" fill="#000000"/>
<rect x="848.9" y="1552.4" width="4.8" height="32.0" fill="#bebebe"/>
<rect x="848.9" y="1591.6" width="4.8" height="32.0" fill="#bebebe"/>
<rect x="840.9" y="1550.1" width="20.8" height="4.7" fill="#bebebe"/>
<rect x="840.9" y="1621.2" width="20.8" height="4.7" fill="#bebebe"/>
<rect x="940.70" y="1602.00" width="1.20" height="1.00" fill="#000000"/>
<rect x="938.9" y="1566.6" width="4.8" height="31.0" fill="#bebebe"/>
<rect x="938.9" y="1604.4" width="4.8" height="31.0" fill="#bebebe"/>
<rect x="930.9" y="1564.2" width="20.8" height="4.7" fill="#bebebe"/>
<rect x="930.9" y="1633.1" width="20.8" height="4.7" fill="#bebebe"/>
<rect x="1030.70" y="1604.00" width="1.20" height="1.50" fill="#008000"/>
<rect x="1028.9" y="1573.3" width="4.8" height="27.6" fill="#bebebe"/>
<rect x="1028.9" y="1607.1" width="4.8" height="27.6" fill="#bebebe"/>
<rect x="1020.9" y="1571.0" width="20.8" height="4.7" fill="#bebebe"/>
<rect x="1020.9" y="1632.4" width="20.8" height="4.7" fill="#bebebe"/>
<rect x="1120.70" y="1611.00" width="1.20" height="3.00" fill="#008000"/>
<rect x="1118.9" y="1578.4" width="4.8" height="29.3" fill="#bebebe"/>
<rect x="1118.9" y="1614.3" width="4.8" height="29.3" fill="#bebebe"/>
<rect x="1110.9" y="1576.1" width="20.8" height="4.7" fill="#bebebe"/>
<rect x="1110.9" y="1641.2" width="20.8" height="4.7" fill="#bebebe"/>
<rect x="1210.70" y="1609.00" width="1.20" height="2.00" fill="#000000"/>
<rect x="1208.9" y="1582.3" width="4.8" height="23.8" fill="#bebebe"/>
<rect x="1208.9" y="1611.3" width="4.8" height="23.8" fill="#bebebe"/>
<rect x="1200.9" y="1580.0" width="20.8" height="4.7" fill="#bebebe"/>
<rect x="1200.9" y="1632.8" width="20.8" height="4.7" fill="#bebebe"/>
<rect x="1298.9" y="1601.4" width="4.8" height="21.1" fill="#bebebe"/>
<rect x="1298.9" y="1627.1" width="4.8" height="21.1" fill="#bebebe"/>
<rect x="1290.9" y="1599.0" width="20.8" height="4.7" fill="#bebebe"/>
<rect x="1290.9" y="1645.9" width="20.8" height="4.7" fill="#bebebe"/>
<rect x="1388.9" y="1609.3" width="4.8" height="20.2" fill="#bebebe"/>
<rect x="1388.9" y="1634.0" width="4.8" height="20.2" fill="#bebebe"/>
<rect x="1380.9" y="1607.0" width="20.8" height="4.7" fill="#bebebe"/>
<rect x="1380.9" y="1652.0" width="20.8" height="4.7" fill="#bebebe"/>
<rect x="1478.9" y="1613.5" width="4.8" height="17.5" fill="#bebebe"/>
<rect x="1478.9" y="1635.0" width="4.8" height="17.5" fill="#bebebe"/>
<rect x="1470.9" y="1611.2" width="20.8" height="4.7" fill="#bebebe"/>
<rect x="1470.9" y="1650.2" width="20.8" height="4.7" fill="#bebebe"/>
<rect x="1568.9" y="1618.5" width="4.8" height="16.1" fill="#bebebe"/>
<rect x="1568.9" y="1638.2" width="4.8" height="16.1" fill="#bebebe"/>
<rect x="1560.9" y="1616.2" width="20.8" height="4.7" fill="#bebebe"/>
<rect x="1560.9" y="1652.0" width="20.8" height="4.7" fill="#bebebe"/>
<rect x="1658.9" y="1604.5" width="4.8" height="15.3" fill="#bebebe"/>
<rect x="1658.9" y="1623.2" width="4.8" height="15.3" fill="#bebebe"/>
<rect x="1650.9" y="1602.2" width="20.8" height="4.7" fill="#bebebe"/>
<rect x="1650.9" y="1636.2" width="20.8" height="4.7" fill="#bebebe"/>
<rect x="1748.9" y="1596.7" width="4.8" height="15.6" fill="#bebebe"/>
<rect x="1748.9" y="1615.7" width="4.8" height="15.6" fill="#bebebe"/>
<rect x="1740.9" y="1594.4" width="20.8" height="4.7" fill="#bebebe"/>
<rect x="1740.9" y="1629.0" width="20.8" height="4.7" fill="#bebebe"/>
<rect x="1838.9" y="1615.6" width="4.8" height="14.4" fill="#bebebe"/>
<rect x="1838.9" y="1633.2" width="4.8" height="14.4" fill="#bebebe"/>
<rect x="1830.9" y="1613.2" width="20.8" height="4.7" fill="#bebebe"/>
<rect x="1830.9" y="1645.2" width="20.8" height="4.7" fill="#bebebe"/>
<rect x="1928.9" y="1614.6" width="4.8" height="12.1" fill="#bebebe"/>
<rect x="1928.9" y="1629.3" width="4.8" height="12.1" fill="#bebebe"/>
<rect x="1920.9" y="1612.2" width="20.8" height="4.7" fill="#bebebe"/>
<rect x="1920.9" y="1639.1" width="20.8" height="4.7" fill="#bebebe"/>
<text class="g" fill="#008000" transform="matrix(0.22972 0 0 1.50875 2013.26 1588.90)">P</text>
<text class="g" fill="#008000" transform="matrix(0.21698 0 0 0.12147 2014.17 1601.98)">S</text>
<text class="g" fill="#0000ff" transform="matrix(0.22113 0 0 0.08866 2013.32 1613.30)">N</text>
<text class="g" fill="#008000" transform="matrix(0.19377 0 0 0.07704 2014.32 1622.00)">A</text>
<text class="g" fill="#0000ff" transform="matrix(0.20124 0 0 0.06832 2013.45 1630.20)">K</text>
<rect x="2014.80" y="1634.60" width="13.00" height="1.70" fill="#000000"/>
<text class="g" fill="#000000" transform="matrix(0.25332 0 0 0.02471 2013.11 1636.30)">L</text>
<rect x="2018.9" y="1473.3" width="4.8" height="9.6" fill="#bebebe"/>
<rect x="2018.9" y="1485.1" width="4.8" height="9.6" fill="#bebebe"/>
<rect x="2010.9" y="1471.0" width="20.8" height="4.7" fill="#bebebe"/>
<rect x="2010.9" y="1492.4" width="20.8" height="4.7" fill="#bebebe"/>
<text class="g" fill="#0000ff" transform="matrix(0.23154 0 0 1.01455 2103.35 1586.70)">D</text>
<text class="g" fill="#0000ff" transform="matrix(0.24154 0 0 0.13808 2103.28 1600.70)">N</text>
<text class="g" fill="#008000" transform="matrix(0.21043 0 0 0.10452 2104.04 1613.70)">G</text>
<text class="g" fill="#0000ff" transform="matrix(0.25310 0 0 0.04361 2103.21 1621.00)">E</text>
<text class="g" fill="#000000" transform="matrix(0.20308 0 0 0.03924 2103.54 1627.00)">M</text>
<rect x="2104.90" y="1631.00" width="14.20" height="2.20" fill="#0000ff"/>
<text class="g" fill="#0000ff" transform="matrix(0.21982 0 0 0.03198 2103.43 1633.20)">K</text>
<rect x="2104.90" y="1637.00" width="14.20" height="1.00" fill="#000000"/>
<rect x="2109.6" y="1508.5" width="4.8" height="8.1" fill="#bebebe"/>
<rect x="2109.6" y="1518.4" width="4.8" height="8.1" fill="#bebebe"/>
<rect x="2101.6" y="1506.2" width="20.8" height="4.7" fill="#bebebe"/>
<rect x="2101.6" y="1524.2" width="20.8" height="4.7" fill="#bebebe"/>
<text class="g" fill="#0000ff" transform="matrix(0.86174 0 0 0.58141 2168.19 1553.90)">R</text>
<text class="g" fill="#0000ff" transform="matrix(0.89192 0 0 0.49419 2167.98 1592.20)">D</text>
<text class="g" fill="#0000ff" transform="matrix(0.93045 0 0 0.27762 2167.73 1615.00)">N</text>
<text class="g" fill="#0000ff" transform="matrix(0.84675 0 0 0.26163 2168.29 1637.00)">K</text>
<text class="g" fill="#008000" transform="matrix(0.91300 0 0 0.06215 2171.32 1643.94)">S</text>
<rect x="2173.95" y="1647.80" width="54.70" height="1.50" fill="#000000"/>
<text class="g" fill="#000000" transform="matrix(1.06590 0 0 0.02180 2166.82 1649.30)">L</text>
<rect x="2198.9" y="1510.6" width="4.8" height="3.0" fill="#bebebe"/>
<rect x="2198.9" y="1514.2" width="4.8" height="3.0" fill="#bebebe"/>
<rect x="2190.9" y="1508.3" width="20.8" height="4.7" fill="#bebebe"/>
<rect x="2190.9" y="1514.9" width="20.8" height="4.7" fill="#bebebe"/>
<text class="g" fill="#000000" transform="matrix(0.87059 0 0 8.29520 2250.81 1631.70)">W</text>
<text class="g" fill="#000000" transform="matrix(1.61632 0 0 0.27617 2240.09 1654.90)">F</text>
<rect x="2250.90" y="1658.90" width="82.00" height="1.20" fill="#000000"/>
<rect x="2289.5" y="1076.6" width="4.8" height="140.0" fill="#bebebe"/>
<rect x="2289.5" y="1061.2" width="4.8" height="2.2" fill="#bebebe"/>
<rect x="2281.5" y="1214.2" width="20.8" height="4.7" fill="#bebebe"/>
<rect x="2281.5" y="1061.1" width="20.8" height="4.7" fill="#bebebe"/>
<text class="g" fill="#0000ff" transform="matrix(1.26031 0 0 0.37210 2332.87 1589.70)">R</text>
<text class="g" fill="#0000ff" transform="matrix(1.23840 0 0 0.20058 2333.02 1607.90)">K</text>
<text class="g" fill="#008000" transform="matrix(1.33529 0 0 0.15254 2337.45 1622.65)">S</text>
<text class="g" fill="#008000" transform="matrix(1.19243 0 0 0.04361 2338.33 1631.00)">A</text>
<rect x="2341.30" y="1634.70" width="80.00" height="1.50" fill="#0000ff"/>
<text class="g" fill="#0000ff" transform="matrix(1.23840 0 0 0.02180 2333.02 1636.20)">K</text>
<rect x="2341.30" y="1641.00" width="80.00" height="1.20" fill="#0000ff"/>
<text class="g" fill="#0000ff" transform="matrix(1.23840 0 0 0.01744 2333.02 1642.20)">K</text>
<rect x="2341.30" y="1645.20" width="80.00" height="0.80" fill="#0000ff"/>
<rect x="2341.30" y="1650.00" width="80.00" height="0.80" fill="#008000"/>
<rect x="2378.9" y="1561.6" width="4.8" height="2.7" fill="#bebebe"/>
<rect x="2378.9" y="1564.9" width="4.8" height="2.7" fill="#bebebe"/>
<rect x="2370.9" y="1559.2" width="20.8" height="4.7" fill="#bebebe"/>
<rect x="2370.9" y="1565.2" width="20.8" height="4.7" fill="#bebebe"/>
<rect x="2470.65" y="1504.80" width="1.30" height="157.40" fill="#008000"/>
<rect x="2468.9" y="1406.5" width="4.8" height="88.7" fill="#bebebe"/>
<rect x="2468.9" y="1514.8" width="4.8" height="88.7" fill="#bebebe"/>
<rect x="2460.9" y="1404.2" width="20.8" height="4.7" fill="#bebebe"/>
<rect x="2460.9" y="1601.2" width="20.8" height="4.7" fill="#bebebe"/>
<rect x="2560.70" y="1507.70" width="1.20" height="154.50" fill="#000000"/>
<rect x="2558.9" y="1407.5" width="4.8" height="90.0" fill="#bebebe"/>
<rect x="2558.9" y="1517.5" width="4.8" height="90.0" fill="#bebebe"/>
<rect x="2550.9" y="1405.2" width="20.8" height="4.7" fill="#bebebe"/>
<rect x="2550.9" y="1605.2" width="20.8" height="4.7" fill="#bebebe"/>
<rect x="2650.70" y="1488.90" width="1.20" height="173.30" fill="#008000"/>
<rect x="2648.9" y="1393.6" width="4.8" height="85.0" fill="#bebebe"/>
<rect x="2648.9" y="1497.4" width="4.8" height="85.0" fill="#bebebe"/>
<rect x="2640.9" y="1391.2" width="20.8" height="4.7" fill="#bebebe"/>
<rect x="2640.9" y="1580.1" width="20.8" height="4.7" fill="#bebebe"/>
<rect x="2740.65" y="1505.00" width="1.30" height="157.20" fill="#008000"/>
<rect x="2738.9" y="1406.5" width="4.8" height="88.7" fill="#bebebe"/>
<rect x="2738.9" y="1514.8" width="4.8" height="88.7" fill="#bebebe"/>
<rect x="2730.9" y="1404.2" width="20.8" height="4.7" fill="#bebebe"/>
<rect x="2730.9" y="1601.2" width="20.8" height="4.7" fill="#bebebe"/>
<rect x="2830.70" y="1492.60" width="1.20" height="169.60" fill="#0000ff"/>
<rect x="2828.9" y="1397.6" width="4.8" height="85.0" fill="#bebebe"/>
<rect x="2828.9" y="1501.4" width="4.8" height="85.0" fill="#bebebe"/>
<rect x="2820.9" y="1395.2" width="20.8" height="4.7" fill="#bebebe"/>
<rect x="2820.9" y="1584.1" width="20.8" height="4.7" fill="#bebebe"/>
<rect x="2920.65" y="1505.00" width="1.30" height="157.20" fill="#008000"/>
<rect x="2918.9" y="1406.5" width="4.8" height="88.7" fill="#bebebe"/>
<rect x="2918.9" y="1514.8" width="4.8" height="88.7" fill="#bebebe"/>
<rect x="2910.9" y="1404.2" width="20.8" height="4.7" fill="#bebebe"/>
<rect x="2910.9" y="1601.2" width="20.8" height="4.7" fill="#bebebe"/>
<text class="g" fill="#0000ff" transform="matrix(1.26936 0 0 0.04942 2961.81 1624.90)">K</text>
<rect x="2970.30" y="1628.80" width="82.00" height="2.20" fill="#0000ff"/>
<text class="g" fill="#0000ff" transform="matrix(1.26936 0 0 0.03198 2961.81 1631.00)">K</text>
<rect x="2970.30" y="1634.90" width="82.00" height="1.20" fill="#008000"/>
<rect x="2970.30" y="1639.80" width="82.00" height="1.20" fill="#000000"/>
<text class="g" fill="#000000" transform="matrix(1.59787 0 0 0.01744 2959.61 1641.00)">L</text>
<rect x="3008.9" y="1619.3" width="4.8" height="1.8" fill="#bebebe"/>
<rect x="3008.9" y="1621.5" width="4.8" height="1.8" fill="#bebebe"/>
<rect x="3000.9" y="1617.0" width="20.8" height="4.7" fill="#bebebe"/>
<rect x="3000.9" y="1621.0" width="20.8" height="4.7" fill="#bebebe"/>
<rect x="3100.70" y="1513.80" width="1.20" height="148.40" fill="#000000"/>
<rect x="3098.9" y="1419.6" width="4.8" height="85.0" fill="#bebebe"/>
<rect x="3098.9" y="1523.4" width="4.8" height="85.0" fill="#bebebe"/>
<rect x="3090.9" y="1417.2" width="20.8" height="4.7" fill="#bebebe"/>
<rect x="3090.9" y="1606.1" width="20.8" height="4.7" fill="#bebebe"/>
<rect x="3190.70" y="1504.00" width="1.20" height="158.20" fill="#008000"/>
<rect x="3188.9" y="1414.8" width="4.8" height="80.5" fill="#bebebe"/>
<rect x="3188.9" y="1513.1" width="4.8" height="80.5" fill="#bebebe"/>
<rect x="3180.9" y="1412.5" width="20.8" height="4.7" fill="#bebebe"/>
<rect x="3180.9" y="1591.3" width="20.8" height="4.7" fill="#bebebe"/>
<rect x="3280.70" y="1512.00" width="1.20" height="150.20" fill="#008000"/>
<rect x="3278.9" y="1419.6" width="4.8" height="83.7" fill="#bebebe"/>
<rect x="3278.9" y="1521.9" width="4.8" height="83.7" fill="#bebebe"/>
<rect x="3270.9" y="1417.2" width="20.8" height="4.7" fill="#bebebe"/>
<rect x="3270.9" y="1603.2" width="20.8" height="4.7" fill="#bebebe"/>
<rect x="3370.70" y="1506.00" width="1.20" height="156.20" fill="#0000ff"/>
<rect x="3368.9" y="1415.6" width="4.8" height="81.0" fill="#bebebe"/>
<rect x="3368.9" y="1514.6" width="4.8" height="81.0" fill="#bebebe"/>
<rect x="3360.9" y="1413.2" width="20.8" height="4.7" fill="#bebebe"/>
<rect x="3360.9" y="1593.2" width="20.8" height="4.7" fill="#bebebe"/>
<rect x="3460.70" y="1512.00" width="1.20" height="150.20" fill="#008000"/>
<rect x="3458.9" y="1419.6" width="4.8" height="83.7" fill="#bebebe"/>
<rect x="3458.9" y="1521.9" width="4.8" height="83.7" fill="#bebebe"/>
<rect x="3450.9" y="1417.2" width="20.8" height="4.7" fill="#bebebe"/>
<rect x="3450.9" y="1603.2" width="20.8" height="4.7" fill="#bebebe"/>
<rect x="3550.70" y="1512.00" width="1.20" height="150.50" fill="#008000"/>
<rect x="3548.9" y="1419.4" width="4.8" height="83.7" fill="#bebebe"/>
<rect x="3548.9" y="1521.7" width="4.8" height="83.7" fill="#bebebe"/>
<rect x="3540.9" y="1417.1" width="20.8" height="4.7" fill="#bebebe"/>
<rect x="3540.9" y="1603.1" width="20.8" height="4.7" fill="#bebebe"/>
<text class="gi" fill="#000000" transform="matrix(2.01316 0 0 3.23368 3580.99 1573.80)">I</text>
<rect x="3600.35" y="1376.77" width="36.50" height="181.05" fill="#fff"/>
<rect x="3645.75" y="1376.77" width="36.50" height="181.05" fill="#fff"/>
<text class="g" fill="#000000" transform="matrix(1.23829 0 0 0.82850 3600.00 1634.70)">V</text>
<text class="g" fill="#000000" transform="matrix(1.57643 0 0 0.27326 3590.30 1657.50)">L</text>
<rect x="3638.9" y="1358.6" width="4.8" height="2.2" fill="#bebebe"/>
<rect x="3638.9" y="1361.2" width="4.8" height="2.2" fill="#bebebe"/>
<rect x="3630.9" y="1356.2" width="20.8" height="4.7" fill="#bebebe"/>
<rect x="3630.9" y="1361.1" width="20.8" height="4.7" fill="#bebebe"/>
<rect x="3730.70" y="1509.00" width="1.20" height="115.80" fill="#000000"/>
<rect x="3728.9" y="1417.5" width="4.8" height="81.9" fill="#bebebe"/>
<rect x="3728.9" y="1517.6" width="4.8" height="81.9" fill="#bebebe"/>
<rect x="3720.9" y="1415.2" width="20.8" height="4.7" fill="#bebebe"/>
<rect x="3720.9" y="1597.2" width="20.8" height="4.7" fill="#bebebe"/>
<rect x="3820.70" y="1505.70" width="1.20" height="156.80" fill="#0000ff"/>
<rect x="3818.9" y="1415.5" width="4.8" height="81.0" fill="#bebebe"/>
<rect x="3818.9" y="1514.5" width="4.8" height="81.0" fill="#bebebe"/>
<rect x="3810.9" y="1413.2" width="20.8" height="4.7" fill="#bebebe"/>
<rect x="3810.9" y="1593.2" width="20.8" height="4.7" fill="#bebebe"/>
<text class="g" fill="#008000" transform="matrix(1.20734 0 0 0.69914 267.79 2171.50)">A</text>
<text class="g" fill="#008000" transform="matrix(1.35198 0 0 0.25847 266.91 2193.95)">S</text>
<text class="g" fill="#0000ff" transform="matrix(1.44376 0 0 0.11337 261.14 2207.60)">E</text>
<text class="g" fill="#000000" transform="matrix(1.57838 0 0 0.09593 260.24 2218.60)">L</text>
<text class="g" fill="#008000" transform="matrix(1.43130 0 0 0.06395 261.23 2227.10)">P</text>
<text class="g" fill="#0000ff" transform="matrix(1.25388 0 0 0.04215 262.41 2234.40)">K</text>
<rect x="270.80" y="2239.30" width="81.00" height="1.70" fill="#0000ff"/>
<text class="g" fill="#0000ff" transform="matrix(1.25388 0 0 0.02471 262.41 2241.00)">K</text>
<rect x="308.9" y="2118.5" width="4.8" height="2.7" fill="#bebebe"/>
<rect x="308.9" y="2121.8" width="4.8" height="2.7" fill="#bebebe"/>
<rect x="300.9" y="2116.2" width="20.8" height="4.7" fill="#bebebe"/>
<rect x="300.9" y="2122.2" width="20.8" height="4.7" fill="#bebebe"/>
<rect x="400.70" y="2083.10" width="1.20" height="7.30" fill="#000000"/>
<rect x="400.70" y="2092.00" width="1.20" height="153.40" fill="#0000ff"/>
<rect x="398.9" y="2000.5" width="4.8" height="74.7" fill="#bebebe"/>
<rect x="398.9" y="2091.8" width="4.8" height="74.7" fill="#bebebe"/>
<rect x="390.9" y="1998.2" width="20.8" height="4.7" fill="#bebebe"/>
<rect x="390.9" y="2164.2" width="20.8" height="4.7" fill="#bebebe"/>
<text class="g" fill="#0000ff" transform="matrix(1.28079 0 0 0.26599 442.08 2183.20)">R</text>
<text class="g" fill="#0000ff" transform="matrix(1.25852 0 0 0.17733 442.23 2199.00)">K</text>
<text class="g" fill="#008000" transform="matrix(1.21181 0 0 0.07122 447.63 2208.80)">A</text>
<text class="g" fill="#0000ff" transform="matrix(1.44911 0 0 0.06395 440.96 2216.90)">E</text>
<rect x="450.65" y="2220.30" width="81.30" height="2.40" fill="#008000"/>
<text class="g" fill="#008000" transform="matrix(1.21181 0 0 0.03488 447.63 2222.70)">A</text>
<rect x="450.65" y="2225.90" width="81.30" height="2.00" fill="#008000"/>
<text class="g" fill="#008000" transform="matrix(1.21181 0 0 0.02907 447.63 2227.90)">A</text>
<rect x="488.9" y="2162.5" width="4.8" height="2.2" fill="#bebebe"/>
<rect x="488.9" y="2165.2" width="4.8" height="2.2" fill="#bebebe"/>
<rect x="480.9" y="2160.2" width="20.8" height="4.7" fill="#bebebe"/>
<rect x="480.9" y="2165.2" width="20.8" height="4.7" fill="#bebebe"/>
<rect x="580.70" y="2027.00" width="1.20" height="218.40" fill="#008000"/>
<rect x="578.9" y="1956.6" width="4.8" height="63.7" fill="#bebebe"/>
<rect x="578.9" y="2034.5" width="4.8" height="63.7" fill="#bebebe"/>
<rect x="570.9" y="1954.3" width="20.8" height="4.7" fill="#bebebe"/>
<rect x="570.9" y="2095.9" width="20.8" height="4.7" fill="#bebebe"/>
<rect x="670.70" y="2031.80" width="1.20" height="128.20" fill="#0000ff"/>
<rect x="670.70" y="2164.90" width="1.20" height="28.10" fill="#008000"/>
<rect x="670.70" y="2217.40" width="1.20" height="28.00" fill="#000000"/>
<rect x="668.9" y="1975.6" width="4.8" height="51.1" fill="#bebebe"/>
<rect x="668.9" y="2038.1" width="4.8" height="51.1" fill="#bebebe"/>
<rect x="660.9" y="1973.3" width="20.8" height="4.7" fill="#bebebe"/>
<rect x="660.9" y="2086.9" width="20.8" height="4.7" fill="#bebebe"/>
<text class="g" fill="#0000ff" transform="matrix(1.43485 0 0 0.07413 711.45 2188.80)">E</text>
<text class="g" fill="#008000" transform="matrix(1.19988 0 0 0.05233 718.06 2196.60)">A</text>
<text class="g" fill="#0000ff" transform="matrix(1.43485 0 0 0.05378 711.45 2204.70)">E</text>
<text class="g" fill="#008000" transform="matrix(1.19988 0 0 0.05378 718.06 2212.50)">A</text>
<rect x="721.05" y="2216.10" width="80.50" height="1.70" fill="#0000ff"/>
<text class="g" fill="#0000ff" transform="matrix(1.24614 0 0 0.02471 712.71 2217.80)">K</text>
<rect x="721.05" y="2221.70" width="80.50" height="1.30" fill="#000000"/>
<text class="g" fill="#000000" transform="matrix(1.56864 0 0 0.01890 710.56 2223.00)">L</text>
<rect x="758.9" y="2182.3" width="4.8" height="1.8" fill="#bebebe"/>
<rect x="758.9" y="2184.5" width="4.8" height="1.8" fill="#bebebe"/>
<rect x="750.9" y="2180.0" width="20.8" height="4.7" fill="#bebebe"/>
<rect x="750.9" y="2184.0" width="20.8" height="4.7" fill="#bebebe"/>
<text class="g" fill="#000000" transform="matrix(1.22145 0 0 0.29506 810.57 2170.50)">V</text>
<text class="g" fill="#000000" transform="matrix(1.55500 0 0 0.16570 801.00 2186.80)">L</text>
<text class="g" fill="#000000" transform="matrix(1.57296 0 0 0.17006 800.88 2202.70)">F</text>
<text class="gi" fill="#000000" transform="matrix(1.98579 0 0 0.08957 791.81 2213.00)">I</text>
<text class="g" fill="#008000" transform="matrix(1.18945 0 0 0.07704 808.44 2222.70)">A</text>
<text class="g" fill="#000000" transform="matrix(1.22145 0 0 0.05378 810.57 2229.60)">V</text>
<rect x="811.40" y="2232.50" width="79.80" height="1.90" fill="#008000"/>
<text class="g" fill="#008000" transform="matrix(1.18945 0 0 0.02762 808.44 2234.40)">A</text>
<rect x="848.9" y="2147.5" width="4.8" height="1.8" fill="#bebebe"/>
<rect x="848.9" y="2149.7" width="4.8" height="1.8" fill="#bebebe"/>
<rect x="840.9" y="2145.2" width="20.8" height="4.7" fill="#bebebe"/>
<rect x="840.9" y="2149.2" width="20.8" height="4.7" fill="#bebebe"/>
<text class="g" fill="#008000" transform="matrix(1.18553 0 0 0.47316 896.44 2159.54)">G</text>
<text class="g" fill="#008000" transform="matrix(1.41363 0 0 0.33722 891.84 2188.80)">P</text>
<text class="g" fill="#000000" transform="matrix(1.22451 0 0 0.25436 900.46 2210.50)">V</text>
<text class="g" fill="#000000" transform="matrix(1.55890 0 0 0.05378 890.87 2217.40)">L</text>
<text class="g" fill="#0000ff" transform="matrix(1.23840 0 0 0.04361 893.02 2224.70)">K</text>
<rect x="901.30" y="2228.30" width="80.00" height="1.30" fill="#0000ff"/>
<text class="g" fill="#0000ff" transform="matrix(1.23840 0 0 0.01890 893.02 2229.60)">K</text>
<rect x="901.30" y="2232.50" width="80.00" height="2.50" fill="#0000ff"/>
<text class="g" fill="#0000ff" transform="matrix(1.23840 0 0 0.03634 893.02 2235.00)">K</text>
<rect x="938.9" y="2123.2" width="4.8" height="2.7" fill="#bebebe"/>
<rect x="938.9" y="2126.5" width="4.8" height="2.7" fill="#bebebe"/>
<rect x="930.9" y="2120.8" width="20.8" height="4.7" fill="#bebebe"/>
<rect x="930.9" y="2126.8" width="20.8" height="4.7" fill="#bebebe"/>
<text class="g" fill="#000000" transform="matrix(0.29567 0 0 0.49565 1021.82 2168.50)">F</text>
<text class="g" fill="#0000ff" transform="matrix(0.24459 0 0 0.20640 1022.16 2187.60)">D</text>
<text class="g" fill="#008000" transform="matrix(0.25037 0 0 0.15395 1023.08 2203.75)">S</text>
<text class="g" fill="#008000" transform="matrix(0.22358 0 0 0.07122 1023.24 2213.00)">A</text>
<text class="g" fill="#0000ff" transform="matrix(0.23220 0 0 0.10756 1022.25 2223.50)">K</text>
<rect x="1028.9" y="2126.5" width="4.8" height="6.3" fill="#bebebe"/>
<rect x="1028.9" y="2134.2" width="4.8" height="6.3" fill="#bebebe"/>
<rect x="1020.9" y="2124.2" width="20.8" height="4.7" fill="#bebebe"/>
<rect x="1020.9" y="2138.2" width="20.8" height="4.7" fill="#bebebe"/>
<text class="g" fill="#008000" transform="matrix(0.15022 0 0 0.43079 1116.37 2174.18)">S</text>
<text class="g" fill="#0000ff" transform="matrix(0.14178 0 0 0.17733 1115.85 2191.70)">R</text>
<text class="g" fill="#008000" transform="matrix(0.13415 0 0 0.15262 1116.47 2207.10)">A</text>
<text class="g" fill="#000000" transform="matrix(0.13776 0 0 0.07849 1116.71 2217.40)">V</text>
<text class="g" fill="#0000ff" transform="matrix(0.15309 0 0 0.06105 1115.78 2225.90)">N</text>
<rect x="1116.80" y="2229.00" width="9.00" height="2.00" fill="#008000"/>
<text class="g" fill="#008000" transform="matrix(0.15284 0 0 0.02907 1116.63 2231.00)">T</text>
<rect x="1118.9" y="2131.6" width="4.8" height="8.1" fill="#bebebe"/>
<rect x="1118.9" y="2141.5" width="4.8" height="8.1" fill="#bebebe"/>
<rect x="1110.9" y="2129.2" width="20.8" height="4.7" fill="#bebebe"/>
<rect x="1110.9" y="2147.2" width="20.8" height="4.7" fill="#bebebe"/>
<rect x="1210.70" y="2110.00" width="1.20" height="97.60" fill="#008000"/>
<rect x="1210.70" y="2207.60" width="1.20" height="7.40" fill="#0000ff"/>
<rect x="1210.70" y="2218.00" width="1.20" height="12.00" fill="#000000"/>
<rect x="1208.9" y="2090.5" width="4.8" height="18.4" fill="#bebebe"/>
<rect x="1208.9" y="2113.1" width="4.8" height="18.4" fill="#bebebe"/>
<rect x="1200.9" y="2088.2" width="20.8" height="4.7" fill="#bebebe"/>
<rect x="1200.9" y="2129.2" width="20.8" height="4.7" fill="#bebebe"/>
<rect x="1300.70" y="2073.30" width="1.20" height="127.00" fill="#008000"/>
<rect x="1300.70" y="2201.50" width="1.20" height="23.20" fill="#0000ff"/>
<rect x="1298.9" y="2030.7" width="4.8" height="39.0" fill="#bebebe"/>
<rect x="1298.9" y="2078.3" width="4.8" height="39.0" fill="#bebebe"/>
<rect x="1290.9" y="2028.4" width="20.8" height="4.7" fill="#bebebe"/>
<rect x="1290.9" y="2115.0" width="20.8" height="4.7" fill="#bebebe"/>
<rect x="1390.70" y="2114.00" width="1.20" height="66.00" fill="#0000ff"/>
<rect x="1390.70" y="2182.30" width="1.20" height="13.00" fill="#008000"/>
<rect x="1390.70" y="2199.20" width="1.20" height="30.00" fill="#0000ff"/>
<rect x="1390.70" y="2233.10" width="1.20" height="13.00" fill="#000000"/>
<rect x="1388.9" y="2054.5" width="4.8" height="54.4" fill="#bebebe"/>
<rect x="1388.9" y="2121.1" width="4.8" height="54.4" fill="#bebebe"/>
<rect x="1380.9" y="2052.2" width="20.8" height="4.7" fill="#bebebe"/>
<rect x="1380.9" y="2173.2" width="20.8" height="4.7" fill="#bebebe"/>
<rect x="1480.70" y="2113.20" width="1.20" height="72.80" fill="#000000"/>
<rect x="1480.70" y="2188.30" width="1.20" height="57.70" fill="#008000"/>
<rect x="1478.9" y="2039.5" width="4.8" height="65.7" fill="#bebebe"/>
<rect x="1478.9" y="2119.8" width="4.8" height="65.7" fill="#bebebe"/>
<rect x="1470.9" y="2037.2" width="20.8" height="4.7" fill="#bebebe"/>
<rect x="1470.9" y="2183.2" width="20.8" height="4.7" fill="#bebebe"/>
<rect x="1570.70" y="2098.90" width="1.20" height="77.10" fill="#0000ff"/>
<rect x="1570.70" y="2178.40" width="1.20" height="66.40" fill="#008000"/>
<rect x="1568.9" y="2022.1" width="4.8" height="69.1" fill="#bebebe"/>
<rect x="1568.9" y="2106.6" width="4.8" height="69.1" fill="#bebebe"/>
<rect x="1560.9" y="2019.8" width="20.8" height="4.7" fill="#bebebe"/>
<rect x="1560.9" y="2173.4" width="20.8" height="4.7" fill="#bebebe"/>
<rect x="1660.55" y="2066.30" width="1.50" height="93.70" fill="#000000"/>
<rect x="1660.55" y="2162.20" width="1.50" height="21.40" fill="#008000"/>
<rect x="1660.55" y="2188.80" width="1.50" height="57.20" fill="#000000"/>
<rect x="1658.9" y="1971.7" width="4.8" height="84.6" fill="#bebebe"/>
<rect x="1658.9" y="2075.1" width="4.8" height="84.6" fill="#bebebe"/>
<rect x="1650.9" y="1969.3" width="20.8" height="4.7" fill="#bebebe"/>
<rect x="1650.9" y="2157.3" width="20.8" height="4.7" fill="#bebebe"/>
<rect x="1750.70" y="2109.80" width="1.20" height="72.20" fill="#008000"/>
<rect x="1750.70" y="2184.90" width="1.20" height="26.00" fill="#0000ff"/>
<rect x="1750.70" y="2214.80" width="1.20" height="31.20" fill="#008000"/>
<rect x="1748.9" y="2038.4" width="4.8" height="65.0" fill="#bebebe"/>
<rect x="1748.9" y="2117.8" width="4.8" height="65.0" fill="#bebebe"/>
<rect x="1740.9" y="2036.0" width="20.8" height="4.7" fill="#bebebe"/>
<rect x="1740.9" y="2180.4" width="20.8" height="4.7" fill="#bebebe"/>
<rect x="1840.70" y="2114.50" width="1.20" height="73.50" fill="#008000"/>
<rect x="1840.70" y="2190.00" width="1.20" height="14.40" fill="#000000"/>
<rect x="1840.70" y="2207.00" width="1.20" height="24.80" fill="#008000"/>
<rect x="1840.70" y="2232.00" width="1.20" height="14.00" fill="#0000ff"/>
<rect x="1838.9" y="2054.6" width="4.8" height="53.9" fill="#bebebe"/>
<rect x="1838.9" y="2120.5" width="4.8" height="53.9" fill="#bebebe"/>
<rect x="1830.9" y="2052.2" width="20.8" height="4.7" fill="#bebebe"/>
<rect x="1830.9" y="2172.1" width="20.8" height="4.7" fill="#bebebe"/>
<rect x="1930.70" y="2141.00" width="1.20" height="43.00" fill="#008000"/>
<rect x="1930.70" y="2186.00" width="1.20" height="13.00" fill="#000000"/>
<rect x="1930.70" y="2202.60" width="1.20" height="24.40" fill="#008000"/>
<rect x="1928.9" y="2113.5" width="4.8" height="24.8" fill="#bebebe"/>
<rect x="1928.9" y="2143.8" width="4.8" height="24.8" fill="#bebebe"/>
<rect x="1920.9" y="2111.2" width="20.8" height="4.7" fill="#bebebe"/>
<rect x="1920.9" y="2166.2" width="20.8" height="4.7" fill="#bebebe"/>
<text class="g" fill="#008000" transform="matrix(0.10434 0 0 0.08721 2017.54 2194.00)">A</text>
<text class="g" fill="#008000" transform="matrix(0.12369 0 0 0.09593 2016.97 2206.30)">P</text>
<text class="g" fill="#008000" transform="matrix(0.10373 0 0 0.05791 2017.37 2215.24)">G</text>
<text class="g" fill="#008000" transform="matrix(0.10434 0 0 0.04651 2017.54 2222.20)">A</text>
<rect x="2018.9" y="2180.0" width="4.8" height="7.2" fill="#bebebe"/>
<rect x="2018.9" y="2188.8" width="4.8" height="7.2" fill="#bebebe"/>
<rect x="2010.9" y="2177.7" width="20.8" height="4.7" fill="#bebebe"/>
<rect x="2010.9" y="2193.7" width="20.8" height="4.7" fill="#bebebe"/>
<text class="g" fill="#000000" transform="matrix(0.23036 0 0 0.13082 2103.61 2191.60)">Y</text>
<text class="g" fill="#008000" transform="matrix(0.24369 0 0 0.12006 2103.30 2203.68)">S</text>
<text class="gi" fill="#000000" transform="matrix(0.36331 0 0 0.05162 2100.42 2210.40)">I</text>
<text class="g" fill="#000000" transform="matrix(0.28450 0 0 0.04361 2102.10 2217.30)">L</text>
<rect x="2104.00" y="2220.90" width="14.60" height="2.50" fill="#0000ff"/>
<text class="g" fill="#0000ff" transform="matrix(0.22601 0 0 0.03634 2102.49 2223.40)">K</text>
<rect x="2108.9" y="2178.1" width="4.8" height="4.8" fill="#bebebe"/>
<rect x="2108.9" y="2183.9" width="4.8" height="4.8" fill="#bebebe"/>
<rect x="2100.9" y="2175.8" width="20.8" height="4.7" fill="#bebebe"/>
<rect x="2100.9" y="2186.4" width="20.8" height="4.7" fill="#bebebe"/>
<text class="g" fill="#000000" transform="matrix(0.33127 0 0 0.39100 2190.58 2194.10)">L</text>
<text class="g" fill="#008000" transform="matrix(0.25339 0 0 0.08866 2192.17 2205.10)">A</text>
<text class="g" fill="#000000" transform="matrix(0.33509 0 0 0.07849 2190.56 2214.10)">F</text>
<text class="g" fill="#008000" transform="matrix(0.28917 0 0 0.05959 2190.87 2221.40)">H</text>
<rect x="2198.9" y="2160.0" width="4.8" height="6.6" fill="#bebebe"/>
<rect x="2198.9" y="2168.0" width="4.8" height="6.6" fill="#bebebe"/>
<rect x="2190.9" y="2157.7" width="20.8" height="4.7" fill="#bebebe"/>
<rect x="2190.9" y="2172.3" width="20.8" height="4.7" fill="#bebebe"/>
<rect x="2270.80" y="2216.50" width="41.00" height="1.30" fill="#000000"/>
<text class="g" fill="#000000" transform="matrix(0.79893 0 0 0.01890 2265.46 2217.80)">L</text>
<rect x="2270.80" y="2221.70" width="41.00" height="1.70" fill="#008000"/>
<text class="g" fill="#008000" transform="matrix(0.61112 0 0 0.02471 2269.28 2223.40)">A</text>
<rect x="2270.80" y="2226.30" width="41.00" height="1.20" fill="#0000ff"/>
<rect x="2288.9" y="2214.9" width="4.8" height="2.7" fill="#bebebe"/>
<rect x="2288.9" y="2218.2" width="4.8" height="2.7" fill="#bebebe"/>
<rect x="2280.9" y="2212.6" width="20.8" height="4.7" fill="#bebebe"/>
<rect x="2280.9" y="2218.6" width="20.8" height="4.7" fill="#bebebe"/>
<text class="g" fill="#008000" transform="matrix(1.18553 0 0 0.37288 2336.44 2167.64)">G</text>
<text class="g" fill="#008000" transform="matrix(1.35854 0 0 0.30960 2339.77 2194.10)">T</text>
<text class="g" fill="#008000" transform="matrix(1.33529 0 0 0.21469 2337.45 2212.69)">S</text>
<rect x="2341.30" y="2217.80" width="80.00" height="1.20" fill="#0000ff"/>
<rect x="2341.30" y="2222.60" width="80.00" height="1.30" fill="#008000"/>
<text class="g" fill="#008000" transform="matrix(1.19243 0 0 0.01890 2338.33 2223.90)">A</text>
<rect x="2341.30" y="2227.00" width="80.00" height="1.00" fill="#000000"/>
<rect x="2378.9" y="2137.4" width="4.8" height="2.7" fill="#bebebe"/>
<rect x="2378.9" y="2140.7" width="4.8" height="2.7" fill="#bebebe"/>
<rect x="2370.9" y="2135.1" width="20.8" height="4.7" fill="#bebebe"/>
<rect x="2370.9" y="2141.1" width="20.8" height="4.7" fill="#bebebe"/>
<text class="g" fill="#0000ff" transform="matrix(1.24455 0 0 2.93900 2423.47 2140.00)">R</text>
<text class="g" fill="#0000ff" transform="matrix(1.22292 0 0 1.37357 2423.62 2238.10)">K</text>
<rect x="2468.9" y="1935.5" width="4.8" height="1.8" fill="#bebebe"/>
<rect x="2468.9" y="1937.7" width="4.8" height="1.8" fill="#bebebe"/>
<rect x="2460.9" y="1933.2" width="20.8" height="4.7" fill="#bebebe"/>
<rect x="2460.9" y="1937.2" width="20.8" height="4.7" fill="#bebebe"/>
<text class="g" fill="#008000" transform="matrix(1.32628 0 0 2.58289 2520.76 2153.90)">T</text>
<text class="g" fill="#008000" transform="matrix(1.30358 0 0 0.82061 2518.49 2214.10)">S</text>
<text class="g" fill="#000000" transform="matrix(1.19454 0 0 0.13135 2517.35 2227.77)">C</text>
<rect x="2522.25" y="2232.50" width="78.10" height="2.50" fill="#0000ff"/>
<text class="g" fill="#0000ff" transform="matrix(1.20899 0 0 0.03634 2514.16 2235.00)">K</text>
<rect x="2558.9" y="1973.0" width="4.8" height="2.7" fill="#bebebe"/>
<rect x="2558.9" y="1976.3" width="4.8" height="2.7" fill="#bebebe"/>
<rect x="2550.9" y="1970.7" width="20.8" height="4.7" fill="#bebebe"/>
<rect x="2550.9" y="1976.7" width="20.8" height="4.7" fill="#bebebe"/>
<rect x="2650.70" y="2086.80" width="1.20" height="158.60" fill="#000000"/>
<rect x="2648.9" y="1997.6" width="4.8" height="80.5" fill="#bebebe"/>
<rect x="2648.9" y="2095.9" width="4.8" height="80.5" fill="#bebebe"/>
<rect x="2640.9" y="1995.2" width="20.8" height="4.7" fill="#bebebe"/>
<rect x="2640.9" y="2174.1" width="20.8" height="4.7" fill="#bebebe"/>
<rect x="2740.70" y="2077.00" width="1.20" height="168.40" fill="#000000"/>
<rect x="2738.9" y="1985.5" width="4.8" height="82.2" fill="#bebebe"/>
<rect x="2738.9" y="2085.9" width="4.8" height="82.2" fill="#bebebe"/>
<rect x="2730.9" y="1983.2" width="20.8" height="4.7" fill="#bebebe"/>
<rect x="2730.9" y="2165.8" width="20.8" height="4.7" fill="#bebebe"/>
<rect x="2830.70" y="2081.30" width="1.20" height="164.10" fill="#000000"/>
<rect x="2828.9" y="1991.6" width="4.8" height="80.7" fill="#bebebe"/>
<rect x="2828.9" y="2090.3" width="4.8" height="80.7" fill="#bebebe"/>
<rect x="2820.9" y="1989.3" width="20.8" height="4.7" fill="#bebebe"/>
<rect x="2820.9" y="2168.7" width="20.8" height="4.7" fill="#bebebe"/>
<rect x="2920.70" y="2090.00" width="1.20" height="155.40" fill="#008000"/>
<rect x="2918.9" y="1999.4" width="4.8" height="80.8" fill="#bebebe"/>
<rect x="2918.9" y="2098.2" width="4.8" height="80.8" fill="#bebebe"/>
<rect x="2910.9" y="1997.0" width="20.8" height="4.7" fill="#bebebe"/>
<rect x="2910.9" y="2176.7" width="20.8" height="4.7" fill="#bebebe"/>
<text class="g" fill="#008000" transform="matrix(1.37829 0 0 0.20495 2963.08 2183.90)">P</text>
<text class="g" fill="#008000" transform="matrix(1.16262 0 0 0.18896 2969.40 2199.80)">A</text>
<text class="g" fill="#0000ff" transform="matrix(1.27185 0 0 0.07122 2963.79 2209.60)">D</text>
<text class="g" fill="#000000" transform="matrix(1.19390 0 0 0.05378 2971.48 2217.40)">V</text>
<rect x="2972.30" y="2221.70" width="78.00" height="1.30" fill="#008000"/>
<text class="g" fill="#008000" transform="matrix(1.16262 0 0 0.01890 2969.40 2223.00)">A</text>
<rect x="2972.30" y="2227.60" width="78.00" height="1.20" fill="#0000ff"/>
<text class="g" fill="#0000ff" transform="matrix(1.20744 0 0 0.01744 2964.22 2228.80)">K</text>
<rect x="3008.9" y="2167.3" width="4.8" height="2.2" fill="#bebebe"/>
<rect x="3008.9" y="2170.1" width="4.8" height="2.2" fill="#bebebe"/>
<rect x="3000.9" y="2165.0" width="20.8" height="4.7" fill="#bebebe"/>
<rect x="3000.9" y="2170.0" width="20.8" height="4.7" fill="#bebebe"/>
<rect x="3100.70" y="2088.00" width="1.20" height="157.40" fill="#0000ff"/>
<rect x="3098.9" y="2004.5" width="4.8" height="75.2" fill="#bebebe"/>
<rect x="3098.9" y="2096.3" width="4.8" height="75.2" fill="#bebebe"/>
<rect x="3090.9" y="2002.2" width="20.8" height="4.7" fill="#bebebe"/>
<rect x="3090.9" y="2169.2" width="20.8" height="4.7" fill="#bebebe"/>
<rect x="3190.70" y="2083.10" width="1.20" height="7.30" fill="#000000"/>
<rect x="3190.70" y="2092.00" width="1.20" height="153.40" fill="#0000ff"/>
<rect x="3188.9" y="2000.5" width="4.8" height="74.7" fill="#bebebe"/>
<rect x="3188.9" y="2091.8" width="4.8" height="74.7" fill="#bebebe"/>
<rect x="3180.9" y="1998.2" width="20.8" height="4.7" fill="#bebebe"/>
<rect x="3180.9" y="2164.2" width="20.8" height="4.7" fill="#bebebe"/>
<text class="g" fill="#000000" transform="matrix(1.17859 0 0 0.18460 3241.99 2172.70)">V</text>
<text class="g" fill="#008000" transform="matrix(1.30760 0 0 0.15989 3241.33 2188.10)">T</text>
<text class="g" fill="#0000ff" transform="matrix(1.37246 0 0 0.14971 3233.62 2202.00)">E</text>
<text class="g" fill="#0000ff" transform="matrix(1.30977 0 0 0.11773 3234.04 2213.70)">N</text>
<text class="g" fill="#0000ff" transform="matrix(1.19196 0 0 0.05669 3234.83 2221.70)">K</text>
<text class="gi" fill="#000000" transform="matrix(1.91611 0 0 0.05617 3223.90 2229.60)">I</text>
<rect x="3242.80" y="2233.20" width="77.00" height="2.50" fill="#0000ff"/>
<text class="g" fill="#0000ff" transform="matrix(1.19196 0 0 0.03634 3234.83 2235.70)">K</text>
<rect x="3278.9" y="2158.3" width="4.8" height="1.8" fill="#bebebe"/>
<rect x="3278.9" y="2160.5" width="4.8" height="1.8" fill="#bebebe"/>
<rect x="3270.9" y="2156.0" width="20.8" height="4.7" fill="#bebebe"/>
<rect x="3270.9" y="2160.0" width="20.8" height="4.7" fill="#bebebe"/>
<rect x="3370.70" y="2083.00" width="1.20" height="156.30" fill="#0000ff"/>
<rect x="3368.9" y="1991.5" width="4.8" height="81.0" fill="#bebebe"/>
<rect x="3368.9" y="2090.5" width="4.8" height="81.0" fill="#bebebe"/>
<rect x="3360.9" y="1989.2" width="20.8" height="4.7" fill="#bebebe"/>
<rect x="3360.9" y="2169.2" width="20.8" height="4.7" fill="#bebebe"/>
<rect x="3460.70" y="2081.50" width="1.20" height="163.90" fill="#000000"/>
<rect x="3458.9" y="1991.5" width="4.8" height="81.0" fill="#bebebe"/>
<rect x="3458.9" y="2090.5" width="4.8" height="81.0" fill="#bebebe"/>
<rect x="3450.9" y="1989.2" width="20.8" height="4.7" fill="#bebebe"/>
<rect x="3450.9" y="2169.2" width="20.8" height="4.7" fill="#bebebe"/>
<rect x="3550.70" y="2077.00" width="1.20" height="168.70" fill="#000000"/>
<rect x="3548.9" y="1985.3" width="4.8" height="82.3" fill="#bebebe"/>
<rect x="3548.9" y="2086.0" width="4.8" height="82.3" fill="#bebebe"/>
<rect x="3540.9" y="1983.0" width="20.8" height="4.7" fill="#bebebe"/>
<rect x="3540.9" y="2166.0" width="20.8" height="4.7" fill="#bebebe"/>
<rect x="3640.70" y="2096.80" width="1.20" height="148.90" fill="#000000"/>
<rect x="3638.9" y="2002.3" width="4.8" height="85.1" fill="#bebebe"/>
<rect x="3638.9" y="2106.2" width="4.8" height="85.1" fill="#bebebe"/>
<rect x="3630.9" y="2000.0" width="20.8" height="4.7" fill="#bebebe"/>
<rect x="3630.9" y="2189.0" width="20.8" height="4.7" fill="#bebebe"/>
<clipPath id="q5"><rect x="3690.80" y="2035.20" width="81.00" height="80.20"/></clipPath>
<g clip-path="url(#q5)"><text class="g" fill="#0000ff" transform="matrix(1.10819 0 0 1.05384 3688.25 2110.78)">Q</text></g>
<text class="g" fill="#0000ff" transform="matrix(1.37246 0 0 0.66571 3683.62 2166.00)">E</text>
<text class="g" fill="#0000ff" transform="matrix(1.25554 0 0 0.60321 3684.40 2211.70)">D</text>
<text class="g" fill="#008000" transform="matrix(1.28522 0 0 0.17090 3689.10 2228.53)">S</text>
<rect x="3692.80" y="2231.90" width="77.00" height="1.70" fill="#008000"/>
<text class="g" fill="#008000" transform="matrix(1.14771 0 0 0.02471 3689.94 2233.60)">A</text>
<rect x="3728.9" y="2033.4" width="4.8" height="2.7" fill="#bebebe"/>
<rect x="3728.9" y="2036.7" width="4.8" height="2.7" fill="#bebebe"/>
<rect x="3720.9" y="2031.1" width="20.8" height="4.7" fill="#bebebe"/>
<rect x="3720.9" y="2037.1" width="20.8" height="4.7" fill="#bebebe"/>
<text class="g" fill="#000000" transform="matrix(1.16941 0 0 1.21514 3782.30 2099.60)">V</text>
<text class="gi" fill="#000000" transform="matrix(1.90118 0 0 0.90331 3764.35 2163.80)">I</text>
<rect x="3782.60" y="2108.76" width="34.50" height="50.58" fill="#fff"/>
<rect x="3825.50" y="2108.76" width="34.50" height="50.58" fill="#fff"/>
<text class="g" fill="#000000" transform="matrix(1.48875 0 0 0.60902 3773.14 2211.00)">L</text>
<text class="g" fill="#000000" transform="matrix(1.16854 0 0 0.38135 3778.31 2243.23)">C</text>
<rect x="3818.9" y="2013.3" width="4.8" height="1.8" fill="#bebebe"/>
<rect x="3818.9" y="2015.5" width="4.8" height="1.8" fill="#bebebe"/>
<rect x="3810.9" y="2011.0" width="20.8" height="4.7" fill="#bebebe"/>
<rect x="3810.9" y="2015.0" width="20.8" height="4.7" fill="#bebebe"/>
<text class="g" fill="#0000ff" transform="matrix(1.16100 0 0 1.06979 266.03 2719.30)">K</text>
<text class="g" fill="#0000ff" transform="matrix(1.18154 0 0 0.66280 265.90 2769.40)">R</text>
<text class="g" fill="#008000" transform="matrix(1.11790 0 0 0.42588 271.02 2803.90)">A</text>
<text class="g" fill="#0000ff" transform="matrix(1.16100 0 0 0.07994 266.03 2812.70)">K</text>
<rect x="273.80" y="2816.00" width="75.00" height="2.20" fill="#008000"/>
<text class="g" fill="#008000" transform="matrix(1.11790 0 0 0.03198 271.02 2818.20)">A</text>
<rect x="308.9" y="2642.5" width="4.8" height="2.7" fill="#bebebe"/>
<rect x="308.9" y="2645.8" width="4.8" height="2.7" fill="#bebebe"/>
<rect x="300.9" y="2640.2" width="20.8" height="4.7" fill="#bebebe"/>
<rect x="300.9" y="2646.2" width="20.8" height="4.7" fill="#bebebe"/>
<text class="g" fill="#008000" transform="matrix(1.23514 0 0 0.53389 360.74 2741.58)">S</text>
<text class="g" fill="#0000ff" transform="matrix(1.20662 0 0 0.29797 356.23 2766.50)">D</text>
<text class="g" fill="#0000ff" transform="matrix(1.25874 0 0 0.18024 355.88 2784.40)">N</text>
<text class="g" fill="#0000ff" transform="matrix(1.16578 0 0 0.13227 356.50 2798.00)">R</text>
<text class="g" fill="#000000" transform="matrix(1.44198 0 0 0.11919 354.65 2811.10)">L</text>
<rect x="364.30" y="2814.30" width="74.00" height="1.70" fill="#0000ff"/>
<text class="g" fill="#0000ff" transform="matrix(1.14552 0 0 0.02471 356.64 2816.00)">K</text>
<rect x="398.9" y="2701.8" width="4.8" height="2.7" fill="#bebebe"/>
<rect x="398.9" y="2705.1" width="4.8" height="2.7" fill="#bebebe"/>
<rect x="390.9" y="2699.5" width="20.8" height="4.7" fill="#bebebe"/>
<rect x="390.9" y="2705.5" width="20.8" height="4.7" fill="#bebebe"/>
<text class="g" fill="#008000" transform="matrix(1.26214 0 0 1.83143 445.76 2678.30)">H</text>
<text class="g" fill="#0000ff" transform="matrix(1.14861 0 0 0.75728 446.52 2734.60)">K</text>
<text class="g" fill="#0000ff" transform="matrix(1.16894 0 0 0.47385 446.38 2772.70)">R</text>
<text class="g" fill="#000000" transform="matrix(1.17074 0 0 0.44914 452.20 2807.80)">Y</text>
<text class="g" fill="#000000" transform="matrix(1.46258 0 0 0.11773 444.42 2820.80)">F</text>
<rect x="488.9" y="2548.2" width="4.8" height="2.7" fill="#bebebe"/>
<rect x="488.9" y="2551.5" width="4.8" height="2.7" fill="#bebebe"/>
<rect x="480.9" y="2545.8" width="20.8" height="4.7" fill="#bebebe"/>
<rect x="480.9" y="2551.8" width="20.8" height="4.7" fill="#bebebe"/>
<text class="g" fill="#000000" transform="matrix(0.78777 0 0 2.22388 544.12 2638.60)">W</text>
<text class="g" fill="#008000" transform="matrix(1.10598 0 0 1.49130 541.45 2746.00)">A</text>
<text class="g" fill="#000000" transform="matrix(1.17074 0 0 0.87501 542.20 2811.10)">Y</text>
<text class="g" fill="#000000" transform="matrix(1.46258 0 0 0.15553 534.42 2825.70)">F</text>
<rect x="578.9" y="2482.5" width="4.8" height="2.7" fill="#bebebe"/>
<rect x="578.9" y="2485.8" width="4.8" height="2.7" fill="#bebebe"/>
<rect x="570.9" y="2480.2" width="20.8" height="4.7" fill="#bebebe"/>
<rect x="570.9" y="2486.2" width="20.8" height="4.7" fill="#bebebe"/>
<clipPath id="q6"><rect x="635.45" y="2684.40" width="71.70" height="50.70"/></clipPath>
<g clip-path="url(#q6)"><text class="g" fill="#0000ff" transform="matrix(0.97435 0 0 0.65373 633.45 2732.05)">Q</text></g>
<text class="g" fill="#0000ff" transform="matrix(1.06654 0 0 0.36483 630.32 2763.90)">R</text>
<text class="g" fill="#0000ff" transform="matrix(1.15157 0 0 0.18896 629.75 2781.80)">N</text>
<text class="g" fill="#0000ff" transform="matrix(1.20670 0 0 0.17006 629.38 2797.40)">E</text>
<text class="g" fill="#000000" transform="matrix(1.31922 0 0 0.16570 628.63 2811.10)">L</text>
<rect x="637.45" y="2815.00" width="67.70" height="2.00" fill="#008000"/>
<text class="g" fill="#008000" transform="matrix(1.00909 0 0 0.02907 634.94 2817.00)">A</text>
<rect x="668.9" y="2683.2" width="4.8" height="2.7" fill="#bebebe"/>
<rect x="668.9" y="2686.5" width="4.8" height="2.7" fill="#bebebe"/>
<rect x="660.9" y="2680.8" width="20.8" height="4.7" fill="#bebebe"/>
<rect x="660.9" y="2686.8" width="20.8" height="4.7" fill="#bebebe"/>
<text class="g" fill="#0000ff" transform="matrix(0.91641 0 0 1.12647 725.57 2712.80)">K</text>
<text class="g" fill="#0000ff" transform="matrix(1.00699 0 0 0.74856 724.96 2768.80)">N</text>
<text class="g" fill="#008000" transform="matrix(1.00532 0 0 0.35902 730.57 2797.40)">T</text>
<text class="g" fill="#008000" transform="matrix(0.98811 0 0 0.10028 728.85 2807.70)">S</text>
<text class="g" fill="#0000ff" transform="matrix(0.91641 0 0 0.12791 725.57 2819.20)">K</text>
<rect x="758.9" y="2631.5" width="4.8" height="2.7" fill="#bebebe"/>
<rect x="758.9" y="2634.8" width="4.8" height="2.7" fill="#bebebe"/>
<rect x="750.9" y="2629.2" width="20.8" height="4.7" fill="#bebebe"/>
<rect x="750.9" y="2635.2" width="20.8" height="4.7" fill="#bebebe"/>
<text class="g" fill="#000000" transform="matrix(0.76997 0 0 1.56107 825.58 2691.30)">Y</text>
<text class="g" fill="#000000" transform="matrix(0.95093 0 0 0.76164 820.54 2748.60)">L</text>
<text class="g" fill="#008000" transform="matrix(0.83009 0 0 0.37791 821.35 2780.10)">H</text>
<text class="g" fill="#000000" transform="matrix(0.96191 0 0 0.34012 820.47 2807.80)">F</text>
<text class="g" fill="#000000" transform="matrix(0.69792 0 0 0.13227 822.23 2820.80)">M</text>
<rect x="848.9" y="2581.0" width="4.8" height="2.7" fill="#bebebe"/>
<rect x="848.9" y="2584.3" width="4.8" height="2.7" fill="#bebebe"/>
<rect x="840.9" y="2578.7" width="20.8" height="4.7" fill="#bebebe"/>
<rect x="840.9" y="2584.7" width="20.8" height="4.7" fill="#bebebe"/>
<text class="g" fill="#000000" transform="matrix(0.24942 0 0 3.45936 933.23 2782.80)">L</text>
<text class="g" fill="#000000" transform="matrix(0.18306 0 0 0.20931 933.68 2801.90)">M</text>
<text class="g" fill="#0000ff" transform="matrix(0.19814 0 0 0.13954 933.57 2816.20)">K</text>
<text class="g" fill="#0000ff" transform="matrix(0.20165 0 0 0.11047 933.55 2828.60)">R</text>
<rect x="938.9" y="2538.4" width="4.8" height="6.8" fill="#bebebe"/>
<rect x="938.9" y="2546.8" width="4.8" height="6.8" fill="#bebebe"/>
<rect x="930.9" y="2536.1" width="20.8" height="4.7" fill="#bebebe"/>
<rect x="930.9" y="2551.2" width="20.8" height="4.7" fill="#bebebe"/>
<text class="f" text-anchor="end" transform="translate(3867 2983.4) scale(1 1.05)">WebLogo 3.4</text>
</svg>
</body></html>
